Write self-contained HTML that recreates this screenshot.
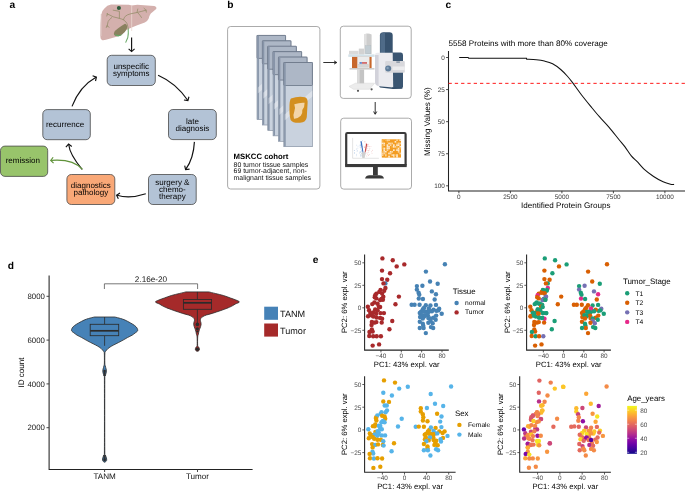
<!DOCTYPE html>
<html><head><meta charset="utf-8"><style>
html,body{margin:0;padding:0;background:#fff;width:685px;height:491px;overflow:hidden}
svg{display:block;will-change:transform}
text{font-family:"Liberation Sans",sans-serif;text-rendering:geometricPrecision}
</style></head><body>
<svg width="685" height="491" viewBox="0 0 685 491" font-family="Liberation Sans, sans-serif">
<rect width="685" height="491" fill="#fff"/>
<text x="9.5" y="8" font-size="10.2" text-anchor="start" fill="#000" font-weight="bold"  >a</text>
<text x="227.3" y="8" font-size="10.2" text-anchor="start" fill="#000" font-weight="bold"  >b</text>
<text x="445.5" y="8" font-size="10.2" text-anchor="start" fill="#000" font-weight="bold"  >c</text>
<text x="7.7" y="268.8" font-size="10.2" text-anchor="start" fill="#000" font-weight="bold"  >d</text>
<text x="312.7" y="263.3" font-size="10.2" text-anchor="start" fill="#000" font-weight="bold"  >e</text>
<rect x="107.2" y="55.3" width="48.10000000000001" height="30.200000000000003" rx="4.4" ry="4.4" fill="#b3c3d6" stroke="#4a4a4a" stroke-width="0.8"/><text x="131.25" y="68.8" font-size="8" text-anchor="middle" fill="#000" font-weight="normal" stroke="#000" stroke-width="0" >unspecific</text><text x="131.25" y="75.8" font-size="8" text-anchor="middle" fill="#000" font-weight="normal" stroke="#000" stroke-width="0" >symptoms</text>
<rect x="168.5" y="109.5" width="47.80000000000001" height="30.099999999999994" rx="4.4" ry="4.4" fill="#b3c3d6" stroke="#4a4a4a" stroke-width="0.8"/><text x="192.4" y="124.2" font-size="8" text-anchor="middle" fill="#000" font-weight="normal" stroke="#000" stroke-width="0" >late</text><text x="192.4" y="131.2" font-size="8" text-anchor="middle" fill="#000" font-weight="normal" stroke="#000" stroke-width="0" >diagnosis</text>
<rect x="42.8" y="109.6" width="47.5" height="30.099999999999994" rx="4.4" ry="4.4" fill="#b3c3d6" stroke="#4a4a4a" stroke-width="0.8"/><text x="65.05" y="127.2" font-size="8" text-anchor="middle" fill="#000" font-weight="normal" stroke="#000" stroke-width="0" >recurrence</text>
<rect x="0.5" y="146.1" width="47.2" height="30.30000000000001" rx="4.4" ry="4.4" fill="#98c46b" stroke="#4a4a4a" stroke-width="0.8"/><text x="22.8" y="163.1" font-size="8" text-anchor="middle" fill="#000" font-weight="normal" stroke="#000" stroke-width="0" >remission</text>
<rect x="66.9" y="174.5" width="47.89999999999999" height="30.0" rx="4.4" ry="4.4" fill="#f9a877" stroke="#4a4a4a" stroke-width="0.8"/><text x="90.85" y="188.2" font-size="8" text-anchor="middle" fill="#000" font-weight="normal" stroke="#000" stroke-width="0" >diagnostics</text><text x="90.85" y="195.2" font-size="8" text-anchor="middle" fill="#000" font-weight="normal" stroke="#000" stroke-width="0" >pathology</text>
<rect x="148.5" y="174.5" width="47.69999999999999" height="30.0" rx="4.4" ry="4.4" fill="#b3c3d6" stroke="#4a4a4a" stroke-width="0.8"/><text x="172.35" y="184.7" font-size="8" text-anchor="middle" fill="#000" font-weight="normal" stroke="#000" stroke-width="0" >surgery &amp;</text><text x="172.35" y="191.7" font-size="8" text-anchor="middle" fill="#000" font-weight="normal" stroke="#000" stroke-width="0" >chemo-</text><text x="172.35" y="198.7" font-size="8" text-anchor="middle" fill="#000" font-weight="normal" stroke="#000" stroke-width="0" >therapy</text>
<path d="M131.6,37.6 L131.6,51.2" fill="none" stroke="#111" stroke-width="1.15"/>
<path d="M128.63,48.92 L131.60,51.60 L134.57,48.92" fill="none" stroke="#111" stroke-width="1.15" stroke-linejoin="miter"/>
<path d="M158.1,75.2 Q176,83 187.7,100.3" fill="none" stroke="#111" stroke-width="1.15"/>
<path d="M183.95,99.97 L187.90,100.60 L188.94,96.74" fill="none" stroke="#111" stroke-width="1.15" stroke-linejoin="miter"/>
<path d="M194.4,141.9 Q193.6,158.2 185.9,169.2" fill="none" stroke="#111" stroke-width="1.15"/>
<path d="M184.70,165.70 L185.60,169.60 L189.57,169.11" fill="none" stroke="#111" stroke-width="1.15" stroke-linejoin="miter"/>
<path d="M145.8,193.8 Q129.8,199.1 117,195.3" fill="none" stroke="#111" stroke-width="1.15"/>
<path d="M119.99,193.08 L116.60,195.20 L118.35,198.80" fill="none" stroke="#111" stroke-width="1.15" stroke-linejoin="miter"/>
<path d="M82.1,169.4 Q69.6,154.2 68.7,144.5" fill="none" stroke="#111" stroke-width="1.15"/>
<path d="M71.79,146.51 L68.60,144.10 L65.87,147.03" fill="none" stroke="#111" stroke-width="1.15" stroke-linejoin="miter"/>
<path d="M72,106.4 Q79.8,86.2 96,77.3" fill="none" stroke="#111" stroke-width="1.15"/>
<path d="M95.50,81.00 L96.40,77.10 L92.62,75.80" fill="none" stroke="#111" stroke-width="1.15" stroke-linejoin="miter"/>
<path d="M82.5,169.4 C75,161 62,159.5 51.1,160.4" fill="none" stroke="#5f9239" stroke-width="1.15"/>
<path d="M53.16,157.25 L50.70,160.40 L53.58,163.18" fill="none" stroke="#5f9239" stroke-width="1.15" stroke-linejoin="miter"/>
<g>
<path d="M104.4,8.4 Q107,5 111,4.6 L128.9,4.7 L131.7,5.6 L137.3,4.7 L154.2,6.1 Q157.2,7 156.2,8.9 L150.8,13.6 Q149.2,16 148.6,18.7 Q147,21.8 144.8,22.5 L137.3,25.3 L131.7,27.4 L126.5,30 L121,34.5 Q116,37.5 109.5,38.8 Q104.5,40.6 102.4,40.2 Q100.3,39.5 100.4,37 L100.6,27 Q100.8,18 101.6,13.5 Q102.5,10 104.4,8.4 Z" fill="#d4b0ad"/>
<path d="M101.4,14 Q101,24 101.2,36" stroke="#dcc2bf" stroke-width="1.2" fill="none"/>
<path d="M131.7,5.5 L131.7,31" stroke="#ebd8cf" stroke-width="0.8"/>
<path d="M107,13.9 Q110,15 113.2,16.8 L119.1,18.3 Q122,19 123.5,19.8 Q126.5,22 127.1,23.8 L128.2,28.2" fill="none" stroke="#958e6b" stroke-width="0.8" stroke-linecap="round"/>
<path d="M111.7,17.6 Q109,19.5 108.1,21.6 L107,26.7 M107,26 L106.3,27.5 M107.2,25.5 L109,27.4 M107.5,13.5 L106.8,16" fill="none" stroke="#958e6b" stroke-width="0.8" stroke-linecap="round"/>
<path d="M119.4,18.3 L119.4,11.3 L113.2,10.2" fill="none" stroke="#958e6b" stroke-width="0.8" stroke-linecap="round"/>
<path d="M123.5,19.8 Q124,17.5 125.3,16.3 Q127,14.6 131,13.7 L137,12.5 Q142,11.3 146,10.2 M146,10.2 L144,8.3 M146,10.2 L146.3,12.2 M137,12.5 L137.8,9 M138,13 Q140,15 141.5,17.5" fill="none" stroke="#958e6b" stroke-width="0.8" stroke-linecap="round"/>
<path d="M125,23.8 Q127.5,24.5 127.1,28.2 Q125.5,32 122,34.5 Q119,36.6 116.5,36.3 Q113.6,35.5 113.9,33.2 Q114.5,30.5 118.5,28 Q122.5,25 125,23.8 Z" fill="#8a815f"/>
<path d="M114.2,34 Q116,36.8 119,36.3 Q121.5,35.8 122.6,34.3 Q119,35.6 114.2,34 Z" fill="#67a665"/>
<path d="M128.2,28.5 Q128.6,34 127.8,37.5 L125.6,42.6" fill="none" stroke="#6cab6a" stroke-width="1.05"/>
<circle cx="118.9" cy="8" r="2.05" fill="#2e5b3b"/>
</g>
<rect x="227.6" y="26.5" width="92.3" height="162.5" rx="3" fill="#fff" stroke="#8f8f8f" stroke-width="0.75"/>
<rect x="340.3" y="26.2" width="70.9" height="72.2" rx="3" fill="#fff" stroke="#8f8f8f" stroke-width="0.75"/>
<rect x="340.7" y="118.2" width="70.8" height="70.9" rx="3" fill="#fff" stroke="#8f8f8f" stroke-width="0.75"/>
<path d="M323.3,62.5 L336.5,62.5" fill="none" stroke="#1a1a1a" stroke-width="0.9"/>
<path d="M334.03,64.10 L336.80,62.50 L334.03,60.90" fill="none" stroke="#1a1a1a" stroke-width="0.9"/>
<path d="M375.2,102 L375.2,114" fill="none" stroke="#1a1a1a" stroke-width="0.9"/>
<path d="M373.60,111.53 L375.20,114.30 L376.80,111.53" fill="none" stroke="#1a1a1a" stroke-width="0.9"/>
<g>
<rect x="257.00" y="35.40" width="28.6" height="84.2" fill="#c9d2de" stroke="#7b8799" stroke-width="0.6"/>
<rect x="257.00" y="35.40" width="28.6" height="23.0" fill="#adb7c6" stroke="#5d697b" stroke-width="0.7" rx="0.8"/>
<rect x="257.30" y="35.70" width="1.6" height="83.6" fill="#8794a8"/>
<path d="M257.80,87.40 L285.60,63.40 L285.60,69.40 L257.80,93.40Z" fill="#ffffff" opacity="0.35"/>
<path d="M273.00,95.40 q3,-3 3,4 q-1,6 -3,4 z" fill="#d4901e" opacity="0.7"/>
</g>
<g>
<rect x="262.36" y="40.82" width="28.6" height="84.2" fill="#c9d2de" stroke="#7b8799" stroke-width="0.6"/>
<rect x="262.36" y="40.82" width="28.6" height="23.0" fill="#adb7c6" stroke="#5d697b" stroke-width="0.7" rx="0.8"/>
<rect x="262.66" y="41.12" width="1.6" height="83.6" fill="#8794a8"/>
<path d="M263.16,92.82 L290.96,68.82 L290.96,74.82 L263.16,98.82Z" fill="#ffffff" opacity="0.35"/>
<path d="M278.36,100.82 q3,-3 3,4 q-1,6 -3,4 z" fill="#d4901e" opacity="0.7"/>
</g>
<g>
<rect x="267.72" y="46.24" width="28.6" height="84.2" fill="#c9d2de" stroke="#7b8799" stroke-width="0.6"/>
<rect x="267.72" y="46.24" width="28.6" height="23.0" fill="#adb7c6" stroke="#5d697b" stroke-width="0.7" rx="0.8"/>
<rect x="268.02" y="46.54" width="1.6" height="83.6" fill="#8794a8"/>
<path d="M268.52,98.24 L296.32,74.24 L296.32,80.24 L268.52,104.24Z" fill="#ffffff" opacity="0.35"/>
<path d="M283.72,106.24 q3,-3 3,4 q-1,6 -3,4 z" fill="#d4901e" opacity="0.7"/>
</g>
<g>
<rect x="273.08" y="51.66" width="28.6" height="84.2" fill="#c9d2de" stroke="#7b8799" stroke-width="0.6"/>
<rect x="273.08" y="51.66" width="28.6" height="23.0" fill="#adb7c6" stroke="#5d697b" stroke-width="0.7" rx="0.8"/>
<rect x="273.38" y="51.96" width="1.6" height="83.6" fill="#8794a8"/>
<path d="M273.88,103.66 L301.68,79.66 L301.68,85.66 L273.88,109.66Z" fill="#ffffff" opacity="0.35"/>
<path d="M289.08,111.66 q3,-3 3,4 q-1,6 -3,4 z" fill="#d4901e" opacity="0.7"/>
</g>
<g>
<rect x="278.44" y="57.08" width="28.6" height="84.2" fill="#c9d2de" stroke="#7b8799" stroke-width="0.6"/>
<rect x="278.44" y="57.08" width="28.6" height="23.0" fill="#adb7c6" stroke="#5d697b" stroke-width="0.7" rx="0.8"/>
<rect x="278.74" y="57.38" width="1.6" height="83.6" fill="#8794a8"/>
<path d="M279.24,109.08 L307.04,85.08 L307.04,91.08 L279.24,115.08Z" fill="#ffffff" opacity="0.35"/>
<path d="M294.44,117.08 q3,-3 3,4 q-1,6 -3,4 z" fill="#d4901e" opacity="0.7"/>
</g>
<g>
<rect x="283.80" y="62.50" width="28.6" height="84.2" fill="#c9d2de" stroke="#7b8799" stroke-width="0.6"/>
<rect x="283.80" y="62.50" width="28.6" height="23.0" fill="#adb7c6" stroke="#5d697b" stroke-width="0.7" rx="0.8"/>
<rect x="284.10" y="62.80" width="1.6" height="83.6" fill="#8794a8"/>
<path d="M284.60,114.50 L312.40,90.50 L312.40,96.50 L284.60,120.50Z" fill="#ffffff" opacity="0.35"/>
</g>
<path d="M291,98.5 Q298,96 305,97.3 Q308,98.5 307.6,103 L306.8,117 Q306.2,122.5 300,122.8 Q293,123.3 290.6,120 Q289.2,115 289.5,105 Q289.8,99.5 291,98.5 Z" fill="#d38f1f"/>
<path d="M294.3,104.3 Q300,102.3 304.6,102.8 Q304.8,107 302.3,110 Q302.8,113 300.8,115.8 Q297.5,119 294,118.8 Q292.7,115 294.3,111.5 Q295.8,108.5 294.3,104.3 Z" fill="#f3d5a8"/>
<text x="233.6" y="159" font-size="7.75" text-anchor="start" fill="#000" font-weight="bold"  >MSKCC cohort</text>
<text x="233.6" y="166.5" font-size="6.9" text-anchor="start" fill="#111" font-weight="normal" stroke="#111" stroke-width="0" >80 tumor tissue samples</text>
<text x="233.6" y="173.4" font-size="6.9" text-anchor="start" fill="#111" font-weight="normal" stroke="#111" stroke-width="0" >69 tumor-adjacent, non-</text>
<text x="233.6" y="180.3" font-size="6.9" text-anchor="start" fill="#111" font-weight="normal" stroke="#111" stroke-width="0" >malignant tissue samples</text>
<path d="M364.1,53.9 L364.1,34.5 Q367.8,32.3 371.6,34.5 L371.6,53.9 Z" fill="#cdcdcd"/>
<path d="M364.1,53.9 L364.1,34.5 Q365.5,33.6 366.6,33.4 L366.6,53.9 Z" fill="#e0e0e0"/>
<rect x="365.3" y="45.8" width="5.6" height="8" fill="#c2ccd2" stroke="#aab6bd" stroke-width="0.3"/>
<rect x="349" y="50.8" width="9.5" height="3.8" fill="#dadada"/>
<rect x="358.8" y="48.6" width="5.3" height="6" fill="#d2d2d2"/>
<rect x="348.3" y="54.4" width="26.3" height="2.5" fill="#d3e1e8"/>
<rect x="352" y="56.9" width="19.6" height="11.3" fill="#c8672c"/>
<rect x="357.3" y="56.9" width="12.2" height="11.3" fill="#ececec"/>
<rect x="359.5" y="62.3" width="2.4" height="1.3" fill="#2f5fc0"/><rect x="362" y="62.3" width="5" height="1.3" fill="#c83a3a"/>
<rect x="358.8" y="64.3" width="9.5" height="2.8" fill="#d6d6d6" stroke="#bdbdbd" stroke-width="0.3"/>
<rect x="349.5" y="68.2" width="25" height="1.3" fill="#c3c3c3"/>
<rect x="357.3" y="69.5" width="6.8" height="15.5" fill="#c4c4c4"/>
<rect x="357.3" y="69.5" width="2.3" height="15.5" fill="#dcdcdc"/>
<path d="M349,86.4 L355.5,83.2 L374.6,83.2 L369.5,89.3 L353.5,89.3 Z" fill="#ececec" stroke="#cfcfcf" stroke-width="0.4"/>
<circle cx="358" cy="90.8" r="1.1" fill="#555"/><circle cx="371.6" cy="89.3" r="1.1" fill="#555"/>
<path d="M379.9,53.9 L379.9,35.5 Q379.9,32.3 383.5,32.3 L389.5,32.3 Q392.7,32.3 392.7,35.5 L392.7,53.9 Z" fill="#38536f"/>
<path d="M380.4,53.9 L380.4,35.5 Q380.6,33 383.5,32.8 L385,32.8 L385,53.9 Z" fill="#4f6b88"/>
<path d="M392,52.4 L401,52.4 Q403,52.6 403,55 L403,86.5 Q403,88 401,88.3 L392,88.3 Z" fill="#3b5672"/>
<path d="M377,52.8 L392.7,52.8 L393.2,87.5 L379,86.2 Q375,85.5 375,82 L375,55 Q375,52.8 377,52.8 Z" fill="#ebebef"/>
<path d="M375,55 L378.6,55 L378.6,85.9 Q375,85.4 375,82 Z" fill="#d2d2da"/>
<path d="M379,86.2 L393.2,87.5 L403,87.8 L402,88.8 L393,89 L380,87.4 Z" fill="#2f4a66"/>
<rect x="385.2" y="61" width="19.6" height="11.7" rx="1" fill="#d8d8dc"/>
<rect x="392.5" y="66.5" width="12.3" height="3.6" fill="#ececee"/>
<circle cx="388.2" cy="68.6" r="3" fill="#5e7c99"/><circle cx="387.6" cy="68" r="1.2" fill="#86a0b8"/>
<rect x="396.3" y="61.3" width="3.6" height="1.6" fill="#8e9aa8"/>
<rect x="346.2" y="133" width="59.4" height="32.5" rx="1.2" fill="#fff" stroke="#3a3a3a" stroke-width="2.2"/>
<rect x="345.1" y="164" width="61.6" height="3.1" fill="#3a3a3a"/>
<rect x="373" y="167" width="4.8" height="8.4" fill="#3a3a3a"/>
<path d="M365,178.4 Q366,175.2 369.5,175.2 L379.5,175.2 Q383,175.2 384,178.4 Z" fill="#3a3a3a"/>
<path d="M352.6,137.8 L352.6,158.3 L378.9,158.3" fill="none" stroke="#c4c4c4" stroke-width="0.45"/>
<circle cx="358.01" cy="146.05" r="0.42" fill="#a9c3e3"/>
<circle cx="370.98" cy="146.34" r="0.42" fill="#eab0b0"/>
<circle cx="362.53" cy="140.58" r="0.42" fill="#a9c3e3"/>
<circle cx="369.39" cy="154.66" r="0.42" fill="#eab0b0"/>
<circle cx="360.88" cy="147.88" r="0.42" fill="#a9c3e3"/>
<circle cx="364.28" cy="152.50" r="0.42" fill="#eab0b0"/>
<circle cx="360.31" cy="144.93" r="0.42" fill="#a9c3e3"/>
<circle cx="365.15" cy="153.86" r="0.42" fill="#eab0b0"/>
<circle cx="361.09" cy="155.97" r="0.42" fill="#a9c3e3"/>
<circle cx="366.97" cy="153.01" r="0.42" fill="#eab0b0"/>
<circle cx="354.55" cy="153.23" r="0.42" fill="#a9c3e3"/>
<circle cx="369.87" cy="148.26" r="0.42" fill="#eab0b0"/>
<circle cx="360.92" cy="145.65" r="0.42" fill="#a9c3e3"/>
<circle cx="372.03" cy="153.14" r="0.42" fill="#eab0b0"/>
<circle cx="361.59" cy="153.73" r="0.42" fill="#a9c3e3"/>
<circle cx="364.19" cy="146.20" r="0.42" fill="#eab0b0"/>
<circle cx="362.68" cy="150.44" r="0.42" fill="#a9c3e3"/>
<circle cx="366.37" cy="149.08" r="0.42" fill="#eab0b0"/>
<circle cx="360.87" cy="145.48" r="0.42" fill="#a9c3e3"/>
<circle cx="364.41" cy="155.63" r="0.42" fill="#eab0b0"/>
<circle cx="356.60" cy="155.80" r="0.42" fill="#a9c3e3"/>
<circle cx="367.78" cy="148.37" r="0.42" fill="#eab0b0"/>
<circle cx="362.69" cy="153.02" r="0.42" fill="#a9c3e3"/>
<circle cx="367.14" cy="145.62" r="0.42" fill="#eab0b0"/>
<circle cx="354.63" cy="152.68" r="0.42" fill="#a9c3e3"/>
<circle cx="366.07" cy="144.64" r="0.42" fill="#eab0b0"/>
<circle cx="361.88" cy="143.41" r="0.42" fill="#a9c3e3"/>
<circle cx="364.96" cy="141.26" r="0.42" fill="#eab0b0"/>
<circle cx="362.27" cy="146.15" r="0.42" fill="#a9c3e3"/>
<circle cx="368.22" cy="144.16" r="0.42" fill="#eab0b0"/>
<circle cx="360.26" cy="151.43" r="0.42" fill="#a9c3e3"/>
<circle cx="364.25" cy="153.59" r="0.42" fill="#eab0b0"/>
<circle cx="356.51" cy="154.19" r="0.42" fill="#a9c3e3"/>
<circle cx="364.33" cy="147.40" r="0.42" fill="#eab0b0"/>
<circle cx="361.16" cy="146.98" r="0.42" fill="#a9c3e3"/>
<circle cx="368.54" cy="150.71" r="0.42" fill="#eab0b0"/>
<circle cx="362.22" cy="155.47" r="0.42" fill="#a9c3e3"/>
<circle cx="367.90" cy="154.29" r="0.42" fill="#eab0b0"/>
<circle cx="356.32" cy="149.03" r="0.42" fill="#a9c3e3"/>
<circle cx="365.75" cy="149.52" r="0.42" fill="#eab0b0"/>
<circle cx="361.49" cy="151.44" r="0.42" fill="#a9c3e3"/>
<circle cx="367.98" cy="144.90" r="0.42" fill="#eab0b0"/>
<circle cx="357.23" cy="150.22" r="0.42" fill="#a9c3e3"/>
<circle cx="368.12" cy="152.25" r="0.42" fill="#eab0b0"/>
<circle cx="361.55" cy="150.15" r="0.42" fill="#a9c3e3"/>
<circle cx="372.58" cy="150.29" r="0.42" fill="#eab0b0"/>
<circle cx="360.35" cy="154.71" r="0.42" fill="#a9c3e3"/>
<circle cx="366.01" cy="143.26" r="0.42" fill="#eab0b0"/>
<circle cx="359.89" cy="145.08" r="0.42" fill="#a9c3e3"/>
<circle cx="368.79" cy="146.63" r="0.42" fill="#eab0b0"/>
<circle cx="360.05" cy="152.00" r="0.42" fill="#a9c3e3"/>
<circle cx="367.64" cy="146.80" r="0.42" fill="#eab0b0"/>
<circle cx="360.14" cy="146.70" r="0.42" fill="#a9c3e3"/>
<circle cx="364.26" cy="147.15" r="0.42" fill="#eab0b0"/>
<circle cx="360.92" cy="149.07" r="0.42" fill="#a9c3e3"/>
<circle cx="369.56" cy="146.69" r="0.42" fill="#eab0b0"/>
<circle cx="360.30" cy="145.34" r="0.42" fill="#a9c3e3"/>
<circle cx="367.87" cy="144.95" r="0.42" fill="#eab0b0"/>
<circle cx="356.44" cy="145.10" r="0.42" fill="#a9c3e3"/>
<circle cx="369.70" cy="149.88" r="0.42" fill="#eab0b0"/>
<circle cx="361.36" cy="141.61" r="0.42" fill="#a9c3e3"/>
<circle cx="367.34" cy="146.24" r="0.42" fill="#eab0b0"/>
<circle cx="360.42" cy="144.65" r="0.42" fill="#a9c3e3"/>
<circle cx="367.99" cy="150.53" r="0.42" fill="#eab0b0"/>
<circle cx="357.88" cy="148.11" r="0.42" fill="#a9c3e3"/>
<circle cx="364.65" cy="153.46" r="0.42" fill="#eab0b0"/>
<circle cx="359.63" cy="152.96" r="0.42" fill="#a9c3e3"/>
<circle cx="368.58" cy="155.48" r="0.42" fill="#eab0b0"/>
<circle cx="360.96" cy="155.19" r="0.42" fill="#a9c3e3"/>
<circle cx="364.50" cy="153.10" r="0.42" fill="#eab0b0"/>
<circle cx="362.46" cy="148.42" r="0.42" fill="#a9c3e3"/>
<circle cx="366.45" cy="147.55" r="0.42" fill="#eab0b0"/>
<circle cx="360.69" cy="155.99" r="0.42" fill="#a9c3e3"/>
<circle cx="365.59" cy="149.83" r="0.42" fill="#eab0b0"/>
<circle cx="361.77" cy="150.13" r="0.42" fill="#a9c3e3"/>
<circle cx="364.14" cy="154.46" r="0.42" fill="#eab0b0"/>
<circle cx="360.13" cy="147.69" r="0.42" fill="#a9c3e3"/>
<circle cx="371.55" cy="151.81" r="0.42" fill="#eab0b0"/>
<circle cx="357.09" cy="151.67" r="0.42" fill="#a9c3e3"/>
<circle cx="364.84" cy="147.15" r="0.42" fill="#eab0b0"/>
<circle cx="354.25" cy="150.33" r="0.42" fill="#a9c3e3"/>
<circle cx="366.85" cy="155.99" r="0.42" fill="#eab0b0"/>
<circle cx="362.01" cy="146.22" r="0.42" fill="#a9c3e3"/>
<circle cx="364.86" cy="142.03" r="0.42" fill="#eab0b0"/>
<circle cx="360.66" cy="152.66" r="0.42" fill="#a9c3e3"/>
<circle cx="366.48" cy="150.57" r="0.42" fill="#eab0b0"/>
<circle cx="354.51" cy="150.33" r="0.42" fill="#a9c3e3"/>
<circle cx="366.21" cy="148.79" r="0.42" fill="#eab0b0"/>
<circle cx="360.82" cy="141.35" r="0.42" fill="#a9c3e3"/>
<circle cx="365.99" cy="148.98" r="0.42" fill="#eab0b0"/>
<path d="M362.6,152.8 L360.4,141.4 L361.7,141.2 L363.5,152.8 Z" fill="#3b72c2"/>
<path d="M364.6,152.6 L366.1,143.6 L367.3,144 L365.5,152.6 Z" fill="#c94545"/>
<path d="M362.3,158 L361.4,152.6 L365.8,152.6 L364.6,158 Z" fill="#cfcfcf"/>
<rect x="381.8" y="139.3" width="19.2" height="18.3" fill="#f39c22"/>
<rect x="381.80" y="139.30" width="1.65" height="1.71" fill="#f7b44a"/>
<rect x="381.80" y="140.96" width="1.65" height="1.71" fill="#f7b44a"/>
<rect x="381.80" y="142.63" width="1.65" height="1.71" fill="#fde9cc"/>
<rect x="381.80" y="144.29" width="1.65" height="1.71" fill="#f7b44a"/>
<rect x="381.80" y="145.95" width="1.65" height="1.71" fill="#f7b44a"/>
<rect x="381.80" y="147.62" width="1.65" height="1.71" fill="#f7b44a"/>
<rect x="381.80" y="150.95" width="1.65" height="1.71" fill="#f7b44a"/>
<rect x="381.80" y="152.61" width="1.65" height="1.71" fill="#fbd39a"/>
<rect x="381.80" y="154.27" width="1.65" height="1.71" fill="#fbd39a"/>
<rect x="383.40" y="142.63" width="1.65" height="1.71" fill="#fde9cc"/>
<rect x="383.40" y="144.29" width="1.65" height="1.71" fill="#fbd39a"/>
<rect x="383.40" y="147.62" width="1.65" height="1.71" fill="#fde9cc"/>
<rect x="383.40" y="149.28" width="1.65" height="1.71" fill="#fde9cc"/>
<rect x="383.40" y="150.95" width="1.65" height="1.71" fill="#fbd39a"/>
<rect x="383.40" y="152.61" width="1.65" height="1.71" fill="#fbd39a"/>
<rect x="385.00" y="139.30" width="1.65" height="1.71" fill="#f7b44a"/>
<rect x="385.00" y="147.62" width="1.65" height="1.71" fill="#f7b44a"/>
<rect x="385.00" y="150.95" width="1.65" height="1.71" fill="#fde9cc"/>
<rect x="385.00" y="152.61" width="1.65" height="1.71" fill="#f7b44a"/>
<rect x="385.00" y="154.27" width="1.65" height="1.71" fill="#fbd39a"/>
<rect x="385.00" y="155.94" width="1.65" height="1.71" fill="#f7b44a"/>
<rect x="386.60" y="139.30" width="1.65" height="1.71" fill="#fbd39a"/>
<rect x="386.60" y="140.96" width="1.65" height="1.71" fill="#f7b44a"/>
<rect x="386.60" y="144.29" width="1.65" height="1.71" fill="#fde9cc"/>
<rect x="386.60" y="145.95" width="1.65" height="1.71" fill="#fde9cc"/>
<rect x="386.60" y="147.62" width="1.65" height="1.71" fill="#fde9cc"/>
<rect x="386.60" y="149.28" width="1.65" height="1.71" fill="#fbd39a"/>
<rect x="388.20" y="139.30" width="1.65" height="1.71" fill="#fbd39a"/>
<rect x="388.20" y="142.63" width="1.65" height="1.71" fill="#fde9cc"/>
<rect x="388.20" y="145.95" width="1.65" height="1.71" fill="#fde9cc"/>
<rect x="388.20" y="147.62" width="1.65" height="1.71" fill="#fde9cc"/>
<rect x="388.20" y="152.61" width="1.65" height="1.71" fill="#fde9cc"/>
<rect x="388.20" y="154.27" width="1.65" height="1.71" fill="#f7b44a"/>
<rect x="388.20" y="155.94" width="1.65" height="1.71" fill="#fde9cc"/>
<rect x="389.80" y="142.63" width="1.65" height="1.71" fill="#fbd39a"/>
<rect x="389.80" y="144.29" width="1.65" height="1.71" fill="#fbd39a"/>
<rect x="389.80" y="150.95" width="1.65" height="1.71" fill="#fde9cc"/>
<rect x="389.80" y="152.61" width="1.65" height="1.71" fill="#fbd39a"/>
<rect x="391.40" y="142.63" width="1.65" height="1.71" fill="#fbd39a"/>
<rect x="391.40" y="145.95" width="1.65" height="1.71" fill="#f7b44a"/>
<rect x="391.40" y="150.95" width="1.65" height="1.71" fill="#fbd39a"/>
<rect x="391.40" y="154.27" width="1.65" height="1.71" fill="#fbd39a"/>
<rect x="393.00" y="144.29" width="1.65" height="1.71" fill="#fde9cc"/>
<rect x="393.00" y="145.95" width="1.65" height="1.71" fill="#fde9cc"/>
<rect x="393.00" y="149.28" width="1.65" height="1.71" fill="#fde9cc"/>
<rect x="393.00" y="154.27" width="1.65" height="1.71" fill="#fde9cc"/>
<rect x="393.00" y="155.94" width="1.65" height="1.71" fill="#fbd39a"/>
<rect x="394.60" y="140.96" width="1.65" height="1.71" fill="#fde9cc"/>
<rect x="394.60" y="145.95" width="1.65" height="1.71" fill="#fbd39a"/>
<rect x="394.60" y="154.27" width="1.65" height="1.71" fill="#f7b44a"/>
<rect x="396.20" y="139.30" width="1.65" height="1.71" fill="#fbd39a"/>
<rect x="396.20" y="142.63" width="1.65" height="1.71" fill="#f7b44a"/>
<rect x="396.20" y="144.29" width="1.65" height="1.71" fill="#fde9cc"/>
<rect x="396.20" y="145.95" width="1.65" height="1.71" fill="#f7b44a"/>
<rect x="396.20" y="147.62" width="1.65" height="1.71" fill="#f7b44a"/>
<rect x="396.20" y="149.28" width="1.65" height="1.71" fill="#fde9cc"/>
<rect x="396.20" y="154.27" width="1.65" height="1.71" fill="#fde9cc"/>
<rect x="396.20" y="155.94" width="1.65" height="1.71" fill="#fde9cc"/>
<rect x="397.80" y="142.63" width="1.65" height="1.71" fill="#fbd39a"/>
<rect x="397.80" y="144.29" width="1.65" height="1.71" fill="#fde9cc"/>
<rect x="397.80" y="147.62" width="1.65" height="1.71" fill="#fde9cc"/>
<rect x="397.80" y="149.28" width="1.65" height="1.71" fill="#fde9cc"/>
<rect x="397.80" y="150.95" width="1.65" height="1.71" fill="#fbd39a"/>
<rect x="399.40" y="139.30" width="1.65" height="1.71" fill="#fde9cc"/>
<rect x="399.40" y="142.63" width="1.65" height="1.71" fill="#fbd39a"/>
<rect x="399.40" y="145.95" width="1.65" height="1.71" fill="#fde9cc"/>
<rect x="399.40" y="147.62" width="1.65" height="1.71" fill="#f7b44a"/>
<rect x="399.40" y="152.61" width="1.65" height="1.71" fill="#fbd39a"/>
<path d="M448.5,51 L448.5,190.9 L685,190.9" fill="none" stroke="#222" stroke-width="1.05"/>
<path d="M446.1,57.50 L448.5,57.50" stroke="#333" stroke-width="0.9"/>
<text x="444.8" y="59.8" font-size="6.4" text-anchor="end" fill="#3a3a3a" font-weight="normal" stroke="#3a3a3a" stroke-width="0" >0</text>
<path d="M446.1,89.58 L448.5,89.58" stroke="#333" stroke-width="0.9"/>
<text x="444.8" y="91.88" font-size="6.4" text-anchor="end" fill="#3a3a3a" font-weight="normal" stroke="#3a3a3a" stroke-width="0" >25</text>
<path d="M446.1,121.66 L448.5,121.66" stroke="#333" stroke-width="0.9"/>
<text x="444.8" y="123.96" font-size="6.4" text-anchor="end" fill="#3a3a3a" font-weight="normal" stroke="#3a3a3a" stroke-width="0" >50</text>
<path d="M446.1,153.74 L448.5,153.74" stroke="#333" stroke-width="0.9"/>
<text x="444.8" y="156.04" font-size="6.4" text-anchor="end" fill="#3a3a3a" font-weight="normal" stroke="#3a3a3a" stroke-width="0" >75</text>
<path d="M446.1,185.82 L448.5,185.82" stroke="#333" stroke-width="0.9"/>
<text x="444.8" y="188.12" font-size="6.4" text-anchor="end" fill="#3a3a3a" font-weight="normal" stroke="#3a3a3a" stroke-width="0" >100</text>
<path d="M458.90,190.9 L458.90,193.3" stroke="#333" stroke-width="0.9"/>
<text x="458.9" y="199.3" font-size="6.4" text-anchor="middle" fill="#3a3a3a" font-weight="normal" stroke="#3a3a3a" stroke-width="0" >0</text>
<path d="M510.40,190.9 L510.40,193.3" stroke="#333" stroke-width="0.9"/>
<text x="510.4" y="199.3" font-size="6.4" text-anchor="middle" fill="#3a3a3a" font-weight="normal" stroke="#3a3a3a" stroke-width="0" >2500</text>
<path d="M561.90,190.9 L561.90,193.3" stroke="#333" stroke-width="0.9"/>
<text x="561.9" y="199.3" font-size="6.4" text-anchor="middle" fill="#3a3a3a" font-weight="normal" stroke="#3a3a3a" stroke-width="0" >5000</text>
<path d="M613.40,190.9 L613.40,193.3" stroke="#333" stroke-width="0.9"/>
<text x="613.4" y="199.3" font-size="6.4" text-anchor="middle" fill="#3a3a3a" font-weight="normal" stroke="#3a3a3a" stroke-width="0" >7500</text>
<path d="M664.90,190.9 L664.90,193.3" stroke="#333" stroke-width="0.9"/>
<text x="664.9" y="199.3" font-size="6.4" text-anchor="middle" fill="#3a3a3a" font-weight="normal" stroke="#3a3a3a" stroke-width="0" >10000</text>
<text x="565.7" y="208.4" font-size="8.1" text-anchor="middle" fill="#000" font-weight="normal" stroke="#000" stroke-width="0" >Identified Protein Groups</text>
<text x="0" y="0" font-size="8.1" text-anchor="middle" fill="#000" font-weight="normal" stroke="#000" stroke-width="0" transform="translate(429.5,121.7) rotate(-90)">Missing Values (%)</text>
<text x="448.6" y="45.6" font-size="8.1" text-anchor="start" fill="#000" font-weight="normal" stroke="#000" stroke-width="0" >5558 Proteins with more than 80% coverage</text>
<path d="M448.5,83.35 L685,83.35" stroke="#ff1a1a" stroke-width="1" stroke-dasharray="3.3 3.0"/>
<path d="M459.2,57.5 L468.2,57.5 L468.6,58.3 L526.5,58.3 L526.70,59.20 C528.30,59.30 533.35,59.48 536.30,59.80 C539.25,60.12 541.68,60.43 544.40,61.10 C547.12,61.77 549.88,62.40 552.60,63.80 C555.32,65.20 558.27,67.47 560.70,69.50 C563.13,71.53 565.25,73.85 567.20,76.00 C569.15,78.15 570.03,79.28 572.40,82.40 C574.77,85.52 578.27,90.62 581.40,94.70 C584.53,98.78 588.20,103.23 591.20,106.90 C594.20,110.57 596.42,113.30 599.40,116.70 C602.38,120.10 605.85,123.50 609.10,127.30 C612.35,131.10 616.25,136.23 618.90,139.50 C621.55,142.77 622.93,144.17 625.00,146.90 C627.07,149.63 629.27,153.43 631.30,155.90 C633.33,158.37 635.08,159.50 637.20,161.70 C639.32,163.90 641.27,166.63 644.00,169.10 C646.73,171.57 650.42,174.38 653.60,176.50 C656.78,178.62 660.28,180.52 663.10,181.80 C665.92,183.08 668.67,183.77 670.50,184.20 C672.33,184.63 673.50,184.37 674.10,184.40" fill="none" stroke="#111" stroke-width="1.05"/>
<path d="M49.1,275.4 L49.1,469.4 L252.6,469.4" fill="none" stroke="#222" stroke-width="1.05"/>
<path d="M46.5,427.70 L49.1,427.70" stroke="#333" stroke-width="0.9"/>
<text x="44.9" y="430.45" font-size="7.8" text-anchor="end" fill="#1a1a1a" font-weight="normal" stroke="#1a1a1a" stroke-width="0" >2000</text>
<path d="M46.5,383.90 L49.1,383.90" stroke="#333" stroke-width="0.9"/>
<text x="44.9" y="386.65" font-size="7.8" text-anchor="end" fill="#1a1a1a" font-weight="normal" stroke="#1a1a1a" stroke-width="0" >4000</text>
<path d="M46.5,340.10 L49.1,340.10" stroke="#333" stroke-width="0.9"/>
<text x="44.9" y="342.85" font-size="7.8" text-anchor="end" fill="#1a1a1a" font-weight="normal" stroke="#1a1a1a" stroke-width="0" >6000</text>
<path d="M46.5,296.30 L49.1,296.30" stroke="#333" stroke-width="0.9"/>
<text x="44.9" y="299.05" font-size="7.8" text-anchor="end" fill="#1a1a1a" font-weight="normal" stroke="#1a1a1a" stroke-width="0" >8000</text>
<path d="M104.6,469.4 L104.6,472.0" stroke="#333" stroke-width="0.9"/>
<text x="104.6" y="478.9" font-size="8.1" text-anchor="middle" fill="#111" font-weight="normal" stroke="#111" stroke-width="0" >TANM</text>
<path d="M197.5,469.4 L197.5,472.0" stroke="#333" stroke-width="0.9"/>
<text x="197.5" y="478.9" font-size="8.1" text-anchor="middle" fill="#111" font-weight="normal" stroke="#111" stroke-width="0" >Tumor</text>
<text x="0" y="0" font-size="8.05" text-anchor="middle" fill="#000" font-weight="normal" stroke="#000" stroke-width="0" transform="translate(23.5,372.5) rotate(-90)">ID count</text>
<path d="M104.4,289 L104.4,283.8 L197.6,283.8 L197.6,289" fill="none" stroke="#555" stroke-width="0.8"/>
<text x="151" y="281.8" font-size="8.2" text-anchor="middle" fill="#1a1a1a" font-weight="normal" stroke="#1a1a1a" stroke-width="0" >2.16e-20</text>
<path d="M94.40,317.00 C93.43,317.25 90.32,317.98 88.60,318.50 C86.88,319.02 85.77,319.35 84.10,320.10 C82.43,320.85 80.18,322.10 78.60,323.00 C77.02,323.90 75.67,324.67 74.60,325.50 C73.53,326.33 72.70,327.12 72.20,328.00 C71.70,328.88 71.28,329.97 71.60,330.80 C71.92,331.63 73.18,332.27 74.10,333.00 C75.02,333.73 75.85,334.45 77.10,335.20 C78.35,335.95 80.10,336.68 81.60,337.50 C83.10,338.32 84.60,339.27 86.10,340.10 C87.60,340.93 89.02,341.68 90.60,342.50 C92.18,343.32 94.18,344.25 95.60,345.00 C97.02,345.75 98.18,346.42 99.10,347.00 C100.02,347.58 100.52,348.00 101.10,348.50 C101.68,349.00 102.17,349.50 102.60,350.00 C103.03,350.50 103.42,351.00 103.70,351.50 C103.98,352.00 104.18,351.08 104.30,353.00 C104.42,354.92 104.47,360.83 104.40,363.00 C104.33,365.17 104.12,365.00 103.90,366.00 C103.68,367.00 103.28,368.17 103.10,369.00 C102.92,369.83 102.80,370.33 102.80,371.00 C102.80,371.67 102.90,372.17 103.10,373.00 C103.30,373.83 103.78,375.17 104.00,376.00 C104.22,376.83 104.33,365.17 104.40,378.00 C104.47,390.83 104.50,440.17 104.40,453.00 C104.30,465.83 104.02,454.33 103.80,455.00 C103.58,455.67 103.32,456.33 103.10,457.00 C102.88,457.67 102.58,458.42 102.50,459.00 C102.42,459.58 102.45,460.07 102.60,460.50 C102.75,460.93 103.12,461.32 103.40,461.60 C103.68,461.88 104.15,462.10 104.30,462.20 L104.90,462.20 C105.05,462.10 105.52,461.88 105.80,461.60 C106.08,461.32 106.45,460.93 106.60,460.50 C106.75,460.07 106.78,459.58 106.70,459.00 C106.62,458.42 106.32,457.67 106.10,457.00 C105.88,456.33 105.62,455.67 105.40,455.00 C105.18,454.33 104.90,465.83 104.80,453.00 C104.70,440.17 104.73,390.83 104.80,378.00 C104.87,365.17 104.98,376.83 105.20,376.00 C105.42,375.17 105.90,373.83 106.10,373.00 C106.30,372.17 106.40,371.67 106.40,371.00 C106.40,370.33 106.28,369.83 106.10,369.00 C105.92,368.17 105.52,367.00 105.30,366.00 C105.08,365.00 104.87,365.17 104.80,363.00 C104.73,360.83 104.78,354.92 104.90,353.00 C105.02,351.08 105.22,352.00 105.50,351.50 C105.78,351.00 106.17,350.50 106.60,350.00 C107.03,349.50 107.52,349.00 108.10,348.50 C108.68,348.00 109.18,347.58 110.10,347.00 C111.02,346.42 112.18,345.75 113.60,345.00 C115.02,344.25 117.02,343.32 118.60,342.50 C120.18,341.68 121.60,340.93 123.10,340.10 C124.60,339.27 126.10,338.32 127.60,337.50 C129.10,336.68 130.85,335.95 132.10,335.20 C133.35,334.45 134.18,333.73 135.10,333.00 C136.02,332.27 137.28,331.63 137.60,330.80 C137.92,329.97 137.50,328.88 137.00,328.00 C136.50,327.12 135.67,326.33 134.60,325.50 C133.53,324.67 132.18,323.90 130.60,323.00 C129.02,322.10 126.77,320.85 125.10,320.10 C123.43,319.35 122.32,319.02 120.60,318.50 C118.88,317.98 115.77,317.25 114.80,317.00 Z" fill="#4682b7" stroke="#2b2b2b" stroke-width="0.8" stroke-linejoin="round"/>
<path d="M186.00,291.90 C184.90,292.17 181.83,292.90 179.40,293.50 C176.97,294.10 173.90,294.75 171.40,295.50 C168.90,296.25 166.48,297.25 164.40,298.00 C162.32,298.75 160.40,299.33 158.90,300.00 C157.40,300.67 155.32,301.33 155.40,302.00 C155.48,302.67 158.23,303.37 159.40,304.00 C160.57,304.63 161.23,305.18 162.40,305.80 C163.57,306.42 164.48,306.92 166.40,307.70 C168.32,308.48 171.20,309.55 173.90,310.50 C176.60,311.45 180.18,312.65 182.60,313.40 C185.02,314.15 186.85,314.47 188.40,315.00 C189.95,315.53 190.98,316.05 191.90,316.60 C192.82,317.15 193.47,317.70 193.90,318.30 C194.33,318.90 194.50,319.50 194.50,320.20 C194.50,320.90 194.03,321.78 193.90,322.50 C193.77,323.22 193.65,323.83 193.70,324.50 C193.75,325.17 194.00,325.83 194.20,326.50 C194.40,327.17 194.63,327.75 194.90,328.50 C195.17,329.25 195.53,330.00 195.80,331.00 C196.07,332.00 196.28,333.50 196.50,334.50 C196.72,335.50 196.99,335.15 197.10,337.00 C197.21,338.85 197.30,343.93 197.15,345.60 C197.00,347.27 196.49,346.48 196.20,347.00 C195.91,347.52 195.50,348.15 195.40,348.70 C195.30,349.25 195.37,349.88 195.60,350.30 C195.83,350.72 196.60,351.05 196.80,351.20 L198.00,351.20 C198.20,351.05 198.97,350.72 199.20,350.30 C199.43,349.88 199.50,349.25 199.40,348.70 C199.30,348.15 198.89,347.52 198.60,347.00 C198.31,346.48 197.80,347.27 197.65,345.60 C197.50,343.93 197.59,338.85 197.70,337.00 C197.81,335.15 198.08,335.50 198.30,334.50 C198.52,333.50 198.73,332.00 199.00,331.00 C199.27,330.00 199.63,329.25 199.90,328.50 C200.17,327.75 200.40,327.17 200.60,326.50 C200.80,325.83 201.05,325.17 201.10,324.50 C201.15,323.83 201.03,323.22 200.90,322.50 C200.77,321.78 200.30,320.90 200.30,320.20 C200.30,319.50 200.47,318.90 200.90,318.30 C201.33,317.70 201.98,317.15 202.90,316.60 C203.82,316.05 204.85,315.53 206.40,315.00 C207.95,314.47 209.78,314.15 212.20,313.40 C214.62,312.65 218.20,311.45 220.90,310.50 C223.60,309.55 226.48,308.48 228.40,307.70 C230.32,306.92 231.23,306.42 232.40,305.80 C233.57,305.18 234.23,304.63 235.40,304.00 C236.57,303.37 239.32,302.67 239.40,302.00 C239.48,301.33 237.40,300.67 235.90,300.00 C234.40,299.33 232.48,298.75 230.40,298.00 C228.32,297.25 225.90,296.25 223.40,295.50 C220.90,294.75 217.83,294.10 215.40,293.50 C212.97,292.90 209.90,292.17 208.80,291.90 Z" fill="#a52a2a" stroke="#2b2b2b" stroke-width="0.8" stroke-linejoin="round"/>
<path d="M104.6,317 L104.6,324.3 M104.6,335.7 L104.6,345.8" stroke="#2b2b2b" stroke-width="0.8"/>
<rect x="90.2" y="324.3" width="28.5" height="11.4" fill="#4682b7" stroke="#2b2b2b" stroke-width="0.85"/>
<path d="M90.2,330.8 L118.7,330.8" stroke="#2b2b2b" stroke-width="1.7"/>
<path d="M197.4,291.9 L197.4,299.5 M197.4,309.3 L197.4,323" stroke="#2b2b2b" stroke-width="0.8"/>
<rect x="183.4" y="299.5" width="28.2" height="9.8" fill="#a52a2a" stroke="#2b2b2b" stroke-width="0.85"/>
<path d="M183.4,302.8 L211.6,302.8" stroke="#2b2b2b" stroke-width="1.7"/>
<circle cx="104.6" cy="371" r="1.3" fill="#2b2b2b"/>
<circle cx="104.6" cy="460" r="1.4" fill="#2b2b2b"/>
<circle cx="197.4" cy="324.4" r="1.8" fill="#2b2b2b"/>
<circle cx="197.4" cy="328.8" r="1.5" fill="#2b2b2b"/>
<circle cx="197.4" cy="331.5" r="1.1" fill="#2b2b2b"/>
<circle cx="197.4" cy="349.3" r="1.7" fill="#2b2b2b"/>
<rect x="264.2" y="306.7" width="13.8" height="13.1" fill="#4682b7"/>
<rect x="264.2" y="323.5" width="13.8" height="13.1" fill="#a52a2a"/>
<text x="280.0" y="317.0" font-size="9.1" text-anchor="start" fill="#111" font-weight="normal" stroke="#111" stroke-width="0" >TANM</text>
<text x="280.0" y="333.8" font-size="9.1" text-anchor="start" fill="#111" font-weight="normal" stroke="#111" stroke-width="0" >Tumor</text>
<path d="M364.6,254.5 L364.6,350.1 L448.8,350.1" fill="none" stroke="#222" stroke-width="1.05"/>
<path d="M362.3,262.80 L364.6,262.80" stroke="#333" stroke-width="0.8"/>
<text x="361.3" y="265.1" font-size="6.4" text-anchor="end" fill="#4a4a4a" font-weight="normal" stroke="#4a4a4a" stroke-width="0" >50</text>
<path d="M362.3,285.30 L364.6,285.30" stroke="#333" stroke-width="0.8"/>
<text x="361.3" y="287.6" font-size="6.4" text-anchor="end" fill="#4a4a4a" font-weight="normal" stroke="#4a4a4a" stroke-width="0" >25</text>
<path d="M362.3,307.80 L364.6,307.80" stroke="#333" stroke-width="0.8"/>
<text x="361.3" y="310.1" font-size="6.4" text-anchor="end" fill="#4a4a4a" font-weight="normal" stroke="#4a4a4a" stroke-width="0" >0</text>
<path d="M362.3,330.30 L364.6,330.30" stroke="#333" stroke-width="0.8"/>
<text x="361.3" y="332.6" font-size="6.4" text-anchor="end" fill="#4a4a4a" font-weight="normal" stroke="#4a4a4a" stroke-width="0" >&#8722;25</text>
<path d="M380.95,350.1 L380.95,352.40000000000003" stroke="#333" stroke-width="0.8"/>
<text x="380.95" y="357.5" font-size="6.4" text-anchor="middle" fill="#4a4a4a" font-weight="normal" stroke="#4a4a4a" stroke-width="0" >&#8722;40</text>
<path d="M401.30,350.1 L401.30,352.40000000000003" stroke="#333" stroke-width="0.8"/>
<text x="401.3" y="357.5" font-size="6.4" text-anchor="middle" fill="#4a4a4a" font-weight="normal" stroke="#4a4a4a" stroke-width="0" >0</text>
<path d="M421.65,350.1 L421.65,352.40000000000003" stroke="#333" stroke-width="0.8"/>
<text x="421.65" y="357.5" font-size="6.4" text-anchor="middle" fill="#4a4a4a" font-weight="normal" stroke="#4a4a4a" stroke-width="0" >40</text>
<path d="M442.00,350.1 L442.00,352.40000000000003" stroke="#333" stroke-width="0.8"/>
<text x="442.0" y="357.5" font-size="6.4" text-anchor="middle" fill="#4a4a4a" font-weight="normal" stroke="#4a4a4a" stroke-width="0" >80</text>
<text x="406.7" y="366.7" font-size="7.7" text-anchor="middle" fill="#000" font-weight="normal" stroke="#000" stroke-width="0" >PC1: 43% expl. var</text>
<text x="0" y="0" font-size="7.7" text-anchor="middle" fill="#000" font-weight="normal" stroke="#000" stroke-width="0" transform="translate(347.4,302.30) rotate(-90)">PC2: 6% expl. var</text>
<path d="M526.6,254.5 L526.6,350.1 L610.9,350.1" fill="none" stroke="#222" stroke-width="1.05"/>
<path d="M524.3000000000001,262.80 L526.6,262.80" stroke="#333" stroke-width="0.8"/>
<text x="523.3" y="265.1" font-size="6.4" text-anchor="end" fill="#4a4a4a" font-weight="normal" stroke="#4a4a4a" stroke-width="0" >50</text>
<path d="M524.3000000000001,285.30 L526.6,285.30" stroke="#333" stroke-width="0.8"/>
<text x="523.3" y="287.6" font-size="6.4" text-anchor="end" fill="#4a4a4a" font-weight="normal" stroke="#4a4a4a" stroke-width="0" >25</text>
<path d="M524.3000000000001,307.80 L526.6,307.80" stroke="#333" stroke-width="0.8"/>
<text x="523.3" y="310.1" font-size="6.4" text-anchor="end" fill="#4a4a4a" font-weight="normal" stroke="#4a4a4a" stroke-width="0" >0</text>
<path d="M524.3000000000001,330.30 L526.6,330.30" stroke="#333" stroke-width="0.8"/>
<text x="523.3" y="332.6" font-size="6.4" text-anchor="end" fill="#4a4a4a" font-weight="normal" stroke="#4a4a4a" stroke-width="0" >&#8722;25</text>
<path d="M543.35,350.1 L543.35,352.40000000000003" stroke="#333" stroke-width="0.8"/>
<text x="543.35" y="357.5" font-size="6.4" text-anchor="middle" fill="#4a4a4a" font-weight="normal" stroke="#4a4a4a" stroke-width="0" >&#8722;40</text>
<path d="M563.60,350.1 L563.60,352.40000000000003" stroke="#333" stroke-width="0.8"/>
<text x="563.6" y="357.5" font-size="6.4" text-anchor="middle" fill="#4a4a4a" font-weight="normal" stroke="#4a4a4a" stroke-width="0" >0</text>
<path d="M583.85,350.1 L583.85,352.40000000000003" stroke="#333" stroke-width="0.8"/>
<text x="583.85" y="357.5" font-size="6.4" text-anchor="middle" fill="#4a4a4a" font-weight="normal" stroke="#4a4a4a" stroke-width="0" >40</text>
<path d="M604.10,350.1 L604.10,352.40000000000003" stroke="#333" stroke-width="0.8"/>
<text x="604.1" y="357.5" font-size="6.4" text-anchor="middle" fill="#4a4a4a" font-weight="normal" stroke="#4a4a4a" stroke-width="0" >80</text>
<text x="568.75" y="366.7" font-size="7.7" text-anchor="middle" fill="#000" font-weight="normal" stroke="#000" stroke-width="0" >PC1: 43% expl. var</text>
<text x="0" y="0" font-size="7.7" text-anchor="middle" fill="#000" font-weight="normal" stroke="#000" stroke-width="0" transform="translate(509.5,302.30) rotate(-90)">PC2: 6% expl. var</text>
<path d="M364.6,376.2 L364.6,472.3 L455.6,472.3" fill="none" stroke="#222" stroke-width="1.05"/>
<path d="M362.3,384.50 L364.6,384.50" stroke="#333" stroke-width="0.8"/>
<text x="361.3" y="386.8" font-size="6.4" text-anchor="end" fill="#4a4a4a" font-weight="normal" stroke="#4a4a4a" stroke-width="0" >50</text>
<path d="M362.3,407.20 L364.6,407.20" stroke="#333" stroke-width="0.8"/>
<text x="361.3" y="409.5" font-size="6.4" text-anchor="end" fill="#4a4a4a" font-weight="normal" stroke="#4a4a4a" stroke-width="0" >25</text>
<path d="M362.3,429.90 L364.6,429.90" stroke="#333" stroke-width="0.8"/>
<text x="361.3" y="432.2" font-size="6.4" text-anchor="end" fill="#4a4a4a" font-weight="normal" stroke="#4a4a4a" stroke-width="0" >0</text>
<path d="M362.3,452.60 L364.6,452.60" stroke="#333" stroke-width="0.8"/>
<text x="361.3" y="454.9" font-size="6.4" text-anchor="end" fill="#4a4a4a" font-weight="normal" stroke="#4a4a4a" stroke-width="0" >&#8722;25</text>
<path d="M382.40,472.3 L382.40,474.6" stroke="#333" stroke-width="0.8"/>
<text x="382.4" y="479.8" font-size="6.4" text-anchor="middle" fill="#4a4a4a" font-weight="normal" stroke="#4a4a4a" stroke-width="0" >&#8722;40</text>
<path d="M404.50,472.3 L404.50,474.6" stroke="#333" stroke-width="0.8"/>
<text x="404.5" y="479.8" font-size="6.4" text-anchor="middle" fill="#4a4a4a" font-weight="normal" stroke="#4a4a4a" stroke-width="0" >0</text>
<path d="M426.60,472.3 L426.60,474.6" stroke="#333" stroke-width="0.8"/>
<text x="426.6" y="479.8" font-size="6.4" text-anchor="middle" fill="#4a4a4a" font-weight="normal" stroke="#4a4a4a" stroke-width="0" >40</text>
<path d="M448.70,472.3 L448.70,474.6" stroke="#333" stroke-width="0.8"/>
<text x="448.7" y="479.8" font-size="6.4" text-anchor="middle" fill="#4a4a4a" font-weight="normal" stroke="#4a4a4a" stroke-width="0" >80</text>
<text x="410.1" y="489.0" font-size="7.7" text-anchor="middle" fill="#000" font-weight="normal" stroke="#000" stroke-width="0" >PC1: 43% expl. var</text>
<text x="0" y="0" font-size="7.7" text-anchor="middle" fill="#000" font-weight="normal" stroke="#000" stroke-width="0" transform="translate(347.3,424.25) rotate(-90)">PC2: 6% expl. var</text>
<path d="M519.7,376.2 L519.7,472.3 L610.9,472.3" fill="none" stroke="#222" stroke-width="1.05"/>
<path d="M517.4000000000001,384.50 L519.7,384.50" stroke="#333" stroke-width="0.8"/>
<text x="516.4" y="386.8" font-size="6.4" text-anchor="end" fill="#4a4a4a" font-weight="normal" stroke="#4a4a4a" stroke-width="0" >50</text>
<path d="M517.4000000000001,407.20 L519.7,407.20" stroke="#333" stroke-width="0.8"/>
<text x="516.4" y="409.5" font-size="6.4" text-anchor="end" fill="#4a4a4a" font-weight="normal" stroke="#4a4a4a" stroke-width="0" >25</text>
<path d="M517.4000000000001,429.90 L519.7,429.90" stroke="#333" stroke-width="0.8"/>
<text x="516.4" y="432.2" font-size="6.4" text-anchor="end" fill="#4a4a4a" font-weight="normal" stroke="#4a4a4a" stroke-width="0" >0</text>
<path d="M517.4000000000001,452.60 L519.7,452.60" stroke="#333" stroke-width="0.8"/>
<text x="516.4" y="454.9" font-size="6.4" text-anchor="end" fill="#4a4a4a" font-weight="normal" stroke="#4a4a4a" stroke-width="0" >&#8722;25</text>
<path d="M537.60,472.3 L537.60,474.6" stroke="#333" stroke-width="0.8"/>
<text x="537.6" y="479.8" font-size="6.4" text-anchor="middle" fill="#4a4a4a" font-weight="normal" stroke="#4a4a4a" stroke-width="0" >&#8722;40</text>
<path d="M559.90,472.3 L559.90,474.6" stroke="#333" stroke-width="0.8"/>
<text x="559.9" y="479.8" font-size="6.4" text-anchor="middle" fill="#4a4a4a" font-weight="normal" stroke="#4a4a4a" stroke-width="0" >0</text>
<path d="M582.20,472.3 L582.20,474.6" stroke="#333" stroke-width="0.8"/>
<text x="582.2" y="479.8" font-size="6.4" text-anchor="middle" fill="#4a4a4a" font-weight="normal" stroke="#4a4a4a" stroke-width="0" >40</text>
<path d="M604.50,472.3 L604.50,474.6" stroke="#333" stroke-width="0.8"/>
<text x="604.5" y="479.8" font-size="6.4" text-anchor="middle" fill="#4a4a4a" font-weight="normal" stroke="#4a4a4a" stroke-width="0" >80</text>
<text x="565.3" y="489.0" font-size="7.7" text-anchor="middle" fill="#000" font-weight="normal" stroke="#000" stroke-width="0" >PC1: 43% expl. var</text>
<text x="0" y="0" font-size="7.7" text-anchor="middle" fill="#000" font-weight="normal" stroke="#000" stroke-width="0" transform="translate(502.5,424.25) rotate(-90)">PC2: 6% expl. var</text>
<circle cx="382.41" cy="258.40" r="2.2" fill="#a8292b"/>
<circle cx="392.76" cy="260.30" r="2.2" fill="#a8292b"/>
<circle cx="404.31" cy="264.40" r="2.2" fill="#a8292b"/>
<circle cx="396.68" cy="266.40" r="2.2" fill="#a8292b"/>
<circle cx="382.01" cy="270.60" r="2.2" fill="#a8292b"/>
<circle cx="390.04" cy="273.30" r="2.2" fill="#a8292b"/>
<circle cx="382.01" cy="279.10" r="2.2" fill="#a8292b"/>
<circle cx="387.23" cy="279.70" r="2.2" fill="#a8292b"/>
<circle cx="385.42" cy="283.40" r="2.2" fill="#4682b4"/>
<circle cx="383.51" cy="283.40" r="2.2" fill="#a8292b"/>
<circle cx="385.42" cy="288.00" r="2.2" fill="#a8292b"/>
<circle cx="380.50" cy="289.90" r="2.2" fill="#a8292b"/>
<circle cx="384.22" cy="290.70" r="2.2" fill="#a8292b"/>
<circle cx="379.29" cy="291.90" r="2.2" fill="#a8292b"/>
<circle cx="382.11" cy="293.60" r="2.2" fill="#a8292b"/>
<circle cx="376.38" cy="293.60" r="2.2" fill="#a8292b"/>
<circle cx="375.17" cy="295.20" r="2.2" fill="#a8292b"/>
<circle cx="374.77" cy="297.20" r="2.2" fill="#a8292b"/>
<circle cx="383.31" cy="296.80" r="2.2" fill="#a8292b"/>
<circle cx="382.91" cy="299.70" r="2.2" fill="#a8292b"/>
<circle cx="380.10" cy="300.10" r="2.2" fill="#a8292b"/>
<circle cx="376.38" cy="298.40" r="2.2" fill="#a8292b"/>
<circle cx="398.89" cy="296.60" r="2.2" fill="#a8292b"/>
<circle cx="395.47" cy="304.30" r="2.2" fill="#a8292b"/>
<circle cx="374.37" cy="302.50" r="2.2" fill="#a8292b"/>
<circle cx="372.26" cy="304.10" r="2.2" fill="#a8292b"/>
<circle cx="377.58" cy="303.70" r="2.2" fill="#a8292b"/>
<circle cx="380.10" cy="307.00" r="2.2" fill="#a8292b"/>
<circle cx="367.84" cy="306.80" r="2.2" fill="#a8292b"/>
<circle cx="378.89" cy="306.60" r="2.2" fill="#a8292b"/>
<circle cx="375.17" cy="309.40" r="2.2" fill="#a8292b"/>
<circle cx="369.04" cy="310.30" r="2.2" fill="#a8292b"/>
<circle cx="377.58" cy="310.30" r="2.2" fill="#a8292b"/>
<circle cx="370.25" cy="313.10" r="2.2" fill="#a8292b"/>
<circle cx="380.50" cy="313.10" r="2.2" fill="#a8292b"/>
<circle cx="383.91" cy="313.10" r="2.2" fill="#a8292b"/>
<circle cx="376.18" cy="313.70" r="2.2" fill="#a8292b"/>
<circle cx="371.86" cy="315.60" r="2.2" fill="#a8292b"/>
<circle cx="368.04" cy="316.30" r="2.2" fill="#a8292b"/>
<circle cx="376.58" cy="317.60" r="2.2" fill="#a8292b"/>
<circle cx="380.10" cy="317.90" r="2.2" fill="#a8292b"/>
<circle cx="382.11" cy="318.80" r="2.2" fill="#a8292b"/>
<circle cx="392.26" cy="321.00" r="2.2" fill="#a8292b"/>
<circle cx="371.86" cy="322.00" r="2.2" fill="#a8292b"/>
<circle cx="376.38" cy="322.10" r="2.2" fill="#a8292b"/>
<circle cx="381.70" cy="322.60" r="2.2" fill="#a8292b"/>
<circle cx="371.55" cy="325.00" r="2.2" fill="#a8292b"/>
<circle cx="389.44" cy="329.30" r="2.2" fill="#a8292b"/>
<circle cx="371.86" cy="329.50" r="2.2" fill="#a8292b"/>
<circle cx="372.66" cy="331.60" r="2.2" fill="#a8292b"/>
<circle cx="369.44" cy="332.00" r="2.2" fill="#a8292b"/>
<circle cx="369.24" cy="336.00" r="2.2" fill="#a8292b"/>
<circle cx="373.16" cy="336.20" r="2.2" fill="#a8292b"/>
<circle cx="376.68" cy="336.20" r="2.2" fill="#a8292b"/>
<circle cx="380.90" cy="336.20" r="2.2" fill="#a8292b"/>
<circle cx="372.66" cy="345.60" r="2.2" fill="#a8292b"/>
<circle cx="379.09" cy="344.40" r="2.2" fill="#a8292b"/>
<circle cx="416.88" cy="286.10" r="2.2" fill="#4682b4"/>
<circle cx="422.40" cy="285.80" r="2.2" fill="#4682b4"/>
<circle cx="416.88" cy="289.60" r="2.2" fill="#4682b4"/>
<circle cx="418.58" cy="292.70" r="2.2" fill="#4682b4"/>
<circle cx="419.29" cy="294.70" r="2.2" fill="#4682b4"/>
<circle cx="431.85" cy="291.40" r="2.2" fill="#4682b4"/>
<circle cx="435.97" cy="294.20" r="2.2" fill="#4682b4"/>
<circle cx="418.79" cy="298.60" r="2.2" fill="#4682b4"/>
<circle cx="422.91" cy="299.00" r="2.2" fill="#4682b4"/>
<circle cx="434.66" cy="299.50" r="2.2" fill="#4682b4"/>
<circle cx="444.91" cy="264.20" r="2.2" fill="#4682b4"/>
<circle cx="425.92" cy="271.60" r="2.2" fill="#4682b4"/>
<circle cx="430.04" cy="281.50" r="2.2" fill="#4682b4"/>
<circle cx="437.68" cy="283.80" r="2.2" fill="#4682b4"/>
<circle cx="411.65" cy="304.80" r="2.2" fill="#4682b4"/>
<circle cx="414.57" cy="304.70" r="2.2" fill="#4682b4"/>
<circle cx="419.59" cy="304.80" r="2.2" fill="#4682b4"/>
<circle cx="425.82" cy="305.20" r="2.2" fill="#4682b4"/>
<circle cx="430.44" cy="305.50" r="2.2" fill="#4682b4"/>
<circle cx="435.97" cy="304.90" r="2.2" fill="#4682b4"/>
<circle cx="428.84" cy="308.40" r="2.2" fill="#4682b4"/>
<circle cx="424.11" cy="307.80" r="2.2" fill="#4682b4"/>
<circle cx="439.19" cy="308.70" r="2.2" fill="#4682b4"/>
<circle cx="433.56" cy="309.60" r="2.2" fill="#4682b4"/>
<circle cx="438.28" cy="310.40" r="2.2" fill="#4682b4"/>
<circle cx="421.10" cy="311.70" r="2.2" fill="#4682b4"/>
<circle cx="426.52" cy="311.70" r="2.2" fill="#4682b4"/>
<circle cx="431.95" cy="311.30" r="2.2" fill="#4682b4"/>
<circle cx="441.70" cy="313.80" r="2.2" fill="#4682b4"/>
<circle cx="419.79" cy="313.00" r="2.2" fill="#4682b4"/>
<circle cx="422.20" cy="315.10" r="2.2" fill="#4682b4"/>
<circle cx="427.93" cy="315.60" r="2.2" fill="#4682b4"/>
<circle cx="436.17" cy="315.60" r="2.2" fill="#4682b4"/>
<circle cx="433.56" cy="317.70" r="2.2" fill="#4682b4"/>
<circle cx="424.11" cy="316.40" r="2.2" fill="#4682b4"/>
<circle cx="422.81" cy="318.50" r="2.2" fill="#4682b4"/>
<circle cx="428.33" cy="318.10" r="2.2" fill="#4682b4"/>
<circle cx="430.54" cy="318.50" r="2.2" fill="#4682b4"/>
<circle cx="435.67" cy="319.80" r="2.2" fill="#4682b4"/>
<circle cx="430.54" cy="320.70" r="2.2" fill="#4682b4"/>
<circle cx="419.79" cy="321.80" r="2.2" fill="#4682b4"/>
<circle cx="428.33" cy="322.80" r="2.2" fill="#4682b4"/>
<circle cx="432.65" cy="323.30" r="2.2" fill="#4682b4"/>
<circle cx="422.81" cy="323.70" r="2.2" fill="#4682b4"/>
<circle cx="423.21" cy="325.80" r="2.2" fill="#4682b4"/>
<circle cx="423.61" cy="328.00" r="2.2" fill="#4682b4"/>
<circle cx="419.79" cy="328.00" r="2.2" fill="#4682b4"/>
<circle cx="430.95" cy="327.10" r="2.2" fill="#4682b4"/>
<circle cx="433.16" cy="328.00" r="2.2" fill="#4682b4"/>
<circle cx="425.82" cy="333.10" r="2.2" fill="#4682b4"/>
<circle cx="381.41" cy="298.98" r="2.2" fill="#a8292b"/>
<circle cx="422.85" cy="309.29" r="2.2" fill="#4682b4"/>
<circle cx="424.41" cy="311.76" r="2.2" fill="#4682b4"/>
<circle cx="428.10" cy="312.16" r="2.2" fill="#4682b4"/>
<circle cx="436.39" cy="310.87" r="2.2" fill="#4682b4"/>
<circle cx="373.86" cy="312.26" r="2.2" fill="#a8292b"/>
<circle cx="373.40" cy="316.62" r="2.2" fill="#a8292b"/>
<circle cx="374.32" cy="322.67" r="2.2" fill="#a8292b"/>
<circle cx="371.91" cy="313.15" r="2.2" fill="#a8292b"/>
<circle cx="429.77" cy="311.27" r="2.2" fill="#4682b4"/>
<circle cx="425.67" cy="315.33" r="2.2" fill="#4682b4"/>
<circle cx="420.10" cy="317.02" r="2.2" fill="#4682b4"/>
<circle cx="543.81" cy="298.98" r="2.2" fill="#1b9e77"/>
<circle cx="585.04" cy="309.29" r="2.2" fill="#d95f02"/>
<circle cx="586.60" cy="311.76" r="2.2" fill="#1b9e77"/>
<circle cx="590.27" cy="312.16" r="2.2" fill="#1b9e77"/>
<circle cx="598.51" cy="310.87" r="2.2" fill="#1b9e77"/>
<circle cx="536.29" cy="312.26" r="2.2" fill="#d95f02"/>
<circle cx="535.83" cy="316.62" r="2.2" fill="#1b9e77"/>
<circle cx="536.75" cy="322.67" r="2.2" fill="#d95f02"/>
<circle cx="534.36" cy="313.15" r="2.2" fill="#1b9e77"/>
<circle cx="591.93" cy="311.27" r="2.2" fill="#1b9e77"/>
<circle cx="587.85" cy="315.33" r="2.2" fill="#1b9e77"/>
<circle cx="582.31" cy="317.02" r="2.2" fill="#d95f02"/>
<circle cx="380.60" cy="413.86" r="2.2" fill="#56b4e9"/>
<circle cx="376.13" cy="417.19" r="2.2" fill="#e69f00"/>
<circle cx="381.47" cy="422.13" r="2.2" fill="#56b4e9"/>
<circle cx="375.25" cy="424.55" r="2.2" fill="#e69f00"/>
<circle cx="372.96" cy="426.17" r="2.2" fill="#e69f00"/>
<circle cx="378.75" cy="425.76" r="2.2" fill="#56b4e9"/>
<circle cx="380.17" cy="428.69" r="2.2" fill="#56b4e9"/>
<circle cx="378.75" cy="432.42" r="2.2" fill="#56b4e9"/>
<circle cx="370.78" cy="435.25" r="2.2" fill="#e69f00"/>
<circle cx="377.22" cy="435.85" r="2.2" fill="#56b4e9"/>
<circle cx="429.27" cy="429.90" r="2.2" fill="#e69f00"/>
<circle cx="426.00" cy="433.83" r="2.2" fill="#e69f00"/>
<circle cx="431.89" cy="433.83" r="2.2" fill="#e69f00"/>
<circle cx="433.42" cy="437.77" r="2.2" fill="#e69f00"/>
<circle cx="436.26" cy="440.70" r="2.2" fill="#e69f00"/>
<circle cx="372.59" cy="435.30" r="2.2" fill="#e69f00"/>
<circle cx="435.42" cy="433.40" r="2.2" fill="#56b4e9"/>
<circle cx="424.92" cy="439.20" r="2.2" fill="#e69f00"/>
<circle cx="542.50" cy="405.28" r="2.2" fill="#fcba2e"/>
<circle cx="541.18" cy="412.65" r="2.2" fill="#fcba2e"/>
<circle cx="535.79" cy="413.86" r="2.2" fill="#f2844b"/>
<circle cx="531.27" cy="417.19" r="2.2" fill="#dd5e66"/>
<circle cx="536.67" cy="422.13" r="2.2" fill="#f48b47"/>
<circle cx="528.08" cy="426.17" r="2.2" fill="#fcae33"/>
<circle cx="535.34" cy="428.69" r="2.2" fill="#be3884"/>
<circle cx="525.88" cy="435.25" r="2.2" fill="#f48b47"/>
<circle cx="538.87" cy="441.00" r="2.2" fill="#f6e323"/>
<circle cx="590.07" cy="430.51" r="2.2" fill="#f79540"/>
<circle cx="593.48" cy="433.43" r="2.2" fill="#fcc628"/>
<circle cx="589.08" cy="437.77" r="2.2" fill="#ea7456"/>
<circle cx="584.90" cy="438.58" r="2.2" fill="#8f0da4"/>
<circle cx="591.94" cy="442.91" r="2.2" fill="#ef7e50"/>
<circle cx="584.34" cy="450.28" r="2.2" fill="#f48b47"/>
<circle cx="589.26" cy="434.30" r="2.2" fill="#f79540"/>
<circle cx="529.83" cy="434.40" r="2.2" fill="#fcc628"/>
<circle cx="529.33" cy="438.80" r="2.2" fill="#f48b47"/>
<circle cx="544.80" cy="258.40" r="2.2" fill="#1b9e77"/>
<circle cx="555.10" cy="260.30" r="2.2" fill="#1b9e77"/>
<circle cx="566.60" cy="264.40" r="2.2" fill="#1b9e77"/>
<circle cx="559.00" cy="266.40" r="2.2" fill="#d95f02"/>
<circle cx="544.40" cy="270.60" r="2.2" fill="#d95f02"/>
<circle cx="552.40" cy="273.30" r="2.2" fill="#1b9e77"/>
<circle cx="544.40" cy="279.10" r="2.2" fill="#d95f02"/>
<circle cx="549.60" cy="279.70" r="2.2" fill="#d95f02"/>
<circle cx="547.80" cy="283.40" r="2.2" fill="#1b9e77"/>
<circle cx="545.90" cy="283.40" r="2.2" fill="#d95f02"/>
<circle cx="547.80" cy="288.00" r="2.2" fill="#e7298a"/>
<circle cx="542.90" cy="289.90" r="2.2" fill="#1b9e77"/>
<circle cx="546.60" cy="290.70" r="2.2" fill="#1b9e77"/>
<circle cx="541.70" cy="291.90" r="2.2" fill="#d95f02"/>
<circle cx="544.50" cy="293.60" r="2.2" fill="#d95f02"/>
<circle cx="538.80" cy="293.60" r="2.2" fill="#d95f02"/>
<circle cx="537.60" cy="295.20" r="2.2" fill="#e7298a"/>
<circle cx="537.20" cy="297.20" r="2.2" fill="#d95f02"/>
<circle cx="545.70" cy="296.80" r="2.2" fill="#7570b3"/>
<circle cx="545.30" cy="299.70" r="2.2" fill="#1b9e77"/>
<circle cx="542.50" cy="300.10" r="2.2" fill="#7570b3"/>
<circle cx="538.80" cy="298.40" r="2.2" fill="#d95f02"/>
<circle cx="561.20" cy="296.60" r="2.2" fill="#d95f02"/>
<circle cx="557.80" cy="304.30" r="2.2" fill="#d95f02"/>
<circle cx="536.80" cy="302.50" r="2.2" fill="#1b9e77"/>
<circle cx="534.70" cy="304.10" r="2.2" fill="#1b9e77"/>
<circle cx="540.00" cy="303.70" r="2.2" fill="#1b9e77"/>
<circle cx="542.50" cy="307.00" r="2.2" fill="#1b9e77"/>
<circle cx="530.30" cy="306.80" r="2.2" fill="#d95f02"/>
<circle cx="541.30" cy="306.60" r="2.2" fill="#d95f02"/>
<circle cx="537.60" cy="309.40" r="2.2" fill="#1b9e77"/>
<circle cx="531.50" cy="310.30" r="2.2" fill="#d95f02"/>
<circle cx="540.00" cy="310.30" r="2.2" fill="#1b9e77"/>
<circle cx="532.70" cy="313.10" r="2.2" fill="#1b9e77"/>
<circle cx="542.90" cy="313.10" r="2.2" fill="#1b9e77"/>
<circle cx="546.30" cy="313.10" r="2.2" fill="#1b9e77"/>
<circle cx="538.60" cy="313.70" r="2.2" fill="#d95f02"/>
<circle cx="534.30" cy="315.60" r="2.2" fill="#1b9e77"/>
<circle cx="530.50" cy="316.30" r="2.2" fill="#d95f02"/>
<circle cx="539.00" cy="317.60" r="2.2" fill="#1b9e77"/>
<circle cx="542.50" cy="317.90" r="2.2" fill="#1b9e77"/>
<circle cx="544.50" cy="318.80" r="2.2" fill="#e7298a"/>
<circle cx="554.60" cy="321.00" r="2.2" fill="#1b9e77"/>
<circle cx="534.30" cy="322.00" r="2.2" fill="#d95f02"/>
<circle cx="538.80" cy="322.10" r="2.2" fill="#d95f02"/>
<circle cx="544.10" cy="322.60" r="2.2" fill="#d95f02"/>
<circle cx="534.00" cy="325.00" r="2.2" fill="#d95f02"/>
<circle cx="551.80" cy="329.30" r="2.2" fill="#1b9e77"/>
<circle cx="534.30" cy="329.50" r="2.2" fill="#d95f02"/>
<circle cx="535.10" cy="331.60" r="2.2" fill="#d95f02"/>
<circle cx="531.90" cy="332.00" r="2.2" fill="#1b9e77"/>
<circle cx="531.70" cy="336.00" r="2.2" fill="#d95f02"/>
<circle cx="535.60" cy="336.20" r="2.2" fill="#1b9e77"/>
<circle cx="539.10" cy="336.20" r="2.2" fill="#d95f02"/>
<circle cx="543.30" cy="336.20" r="2.2" fill="#7570b3"/>
<circle cx="535.10" cy="345.60" r="2.2" fill="#d95f02"/>
<circle cx="541.50" cy="344.40" r="2.2" fill="#d95f02"/>
<circle cx="579.10" cy="286.10" r="2.2" fill="#1b9e77"/>
<circle cx="584.60" cy="285.80" r="2.2" fill="#7570b3"/>
<circle cx="579.10" cy="289.60" r="2.2" fill="#7570b3"/>
<circle cx="580.80" cy="292.70" r="2.2" fill="#1b9e77"/>
<circle cx="581.50" cy="294.70" r="2.2" fill="#1b9e77"/>
<circle cx="594.00" cy="291.40" r="2.2" fill="#7570b3"/>
<circle cx="598.10" cy="294.20" r="2.2" fill="#e7298a"/>
<circle cx="581.00" cy="298.60" r="2.2" fill="#e7298a"/>
<circle cx="585.10" cy="299.00" r="2.2" fill="#1b9e77"/>
<circle cx="596.80" cy="299.50" r="2.2" fill="#d95f02"/>
<circle cx="607.00" cy="264.20" r="2.2" fill="#d95f02"/>
<circle cx="588.10" cy="271.60" r="2.2" fill="#d95f02"/>
<circle cx="592.20" cy="281.50" r="2.2" fill="#d95f02"/>
<circle cx="599.80" cy="283.80" r="2.2" fill="#1b9e77"/>
<circle cx="573.90" cy="304.80" r="2.2" fill="#d95f02"/>
<circle cx="576.80" cy="304.70" r="2.2" fill="#d95f02"/>
<circle cx="581.80" cy="304.80" r="2.2" fill="#d95f02"/>
<circle cx="588.00" cy="305.20" r="2.2" fill="#d95f02"/>
<circle cx="592.60" cy="305.50" r="2.2" fill="#1b9e77"/>
<circle cx="598.10" cy="304.90" r="2.2" fill="#1b9e77"/>
<circle cx="591.00" cy="308.40" r="2.2" fill="#e7298a"/>
<circle cx="586.30" cy="307.80" r="2.2" fill="#d95f02"/>
<circle cx="601.30" cy="308.70" r="2.2" fill="#7570b3"/>
<circle cx="595.70" cy="309.60" r="2.2" fill="#d95f02"/>
<circle cx="600.40" cy="310.40" r="2.2" fill="#1b9e77"/>
<circle cx="583.30" cy="311.70" r="2.2" fill="#d95f02"/>
<circle cx="588.70" cy="311.70" r="2.2" fill="#1b9e77"/>
<circle cx="594.10" cy="311.30" r="2.2" fill="#1b9e77"/>
<circle cx="603.80" cy="313.80" r="2.2" fill="#1b9e77"/>
<circle cx="582.00" cy="313.00" r="2.2" fill="#d95f02"/>
<circle cx="584.40" cy="315.10" r="2.2" fill="#1b9e77"/>
<circle cx="590.10" cy="315.60" r="2.2" fill="#d95f02"/>
<circle cx="598.30" cy="315.60" r="2.2" fill="#d95f02"/>
<circle cx="595.70" cy="317.70" r="2.2" fill="#d95f02"/>
<circle cx="586.30" cy="316.40" r="2.2" fill="#1b9e77"/>
<circle cx="585.00" cy="318.50" r="2.2" fill="#d95f02"/>
<circle cx="590.50" cy="318.10" r="2.2" fill="#d95f02"/>
<circle cx="592.70" cy="318.50" r="2.2" fill="#1b9e77"/>
<circle cx="597.80" cy="319.80" r="2.2" fill="#1b9e77"/>
<circle cx="592.70" cy="320.70" r="2.2" fill="#7570b3"/>
<circle cx="582.00" cy="321.80" r="2.2" fill="#d95f02"/>
<circle cx="590.50" cy="322.80" r="2.2" fill="#d95f02"/>
<circle cx="594.80" cy="323.30" r="2.2" fill="#7570b3"/>
<circle cx="585.00" cy="323.70" r="2.2" fill="#1b9e77"/>
<circle cx="585.40" cy="325.80" r="2.2" fill="#1b9e77"/>
<circle cx="585.80" cy="328.00" r="2.2" fill="#d95f02"/>
<circle cx="582.00" cy="328.00" r="2.2" fill="#1b9e77"/>
<circle cx="593.10" cy="327.10" r="2.2" fill="#1b9e77"/>
<circle cx="595.30" cy="328.00" r="2.2" fill="#1b9e77"/>
<circle cx="588.00" cy="333.10" r="2.2" fill="#d95f02"/>
<circle cx="543.30" cy="290.30" r="2.2" fill="#1b9e77"/>
<circle cx="547.00" cy="289.90" r="2.2" fill="#1b9e77"/>
<circle cx="541.70" cy="292.70" r="2.2" fill="#d95f02"/>
<circle cx="544.50" cy="293.10" r="2.2" fill="#d95f02"/>
<circle cx="546.10" cy="296.80" r="2.2" fill="#7570b3"/>
<circle cx="542.90" cy="299.70" r="2.2" fill="#7570b3"/>
<circle cx="545.30" cy="299.70" r="2.2" fill="#1b9e77"/>
<circle cx="536.00" cy="303.30" r="2.2" fill="#1b9e77"/>
<circle cx="539.20" cy="303.70" r="2.2" fill="#1b9e77"/>
<circle cx="542.10" cy="304.60" r="2.2" fill="#1b9e77"/>
<circle cx="541.30" cy="306.60" r="2.2" fill="#d95f02"/>
<circle cx="542.50" cy="307.00" r="2.2" fill="#1b9e77"/>
<circle cx="538.00" cy="309.40" r="2.2" fill="#1b9e77"/>
<circle cx="540.00" cy="310.30" r="2.2" fill="#1b9e77"/>
<circle cx="533.10" cy="312.70" r="2.2" fill="#1b9e77"/>
<circle cx="538.40" cy="313.50" r="2.2" fill="#d95f02"/>
<circle cx="543.30" cy="313.10" r="2.2" fill="#1b9e77"/>
<circle cx="546.10" cy="313.10" r="2.2" fill="#1b9e77"/>
<circle cx="530.70" cy="316.40" r="2.2" fill="#d95f02"/>
<circle cx="533.90" cy="315.50" r="2.2" fill="#1b9e77"/>
<circle cx="539.20" cy="317.60" r="2.2" fill="#1b9e77"/>
<circle cx="542.10" cy="318.00" r="2.2" fill="#1b9e77"/>
<circle cx="384.00" cy="380.40" r="2.2" fill="#e69f00"/>
<circle cx="395.00" cy="382.60" r="2.2" fill="#e69f00"/>
<circle cx="407.80" cy="386.70" r="2.2" fill="#56b4e9"/>
<circle cx="399.20" cy="388.60" r="2.2" fill="#56b4e9"/>
<circle cx="383.30" cy="392.80" r="2.2" fill="#56b4e9"/>
<circle cx="391.90" cy="395.50" r="2.2" fill="#56b4e9"/>
<circle cx="383.30" cy="401.50" r="2.2" fill="#e69f00"/>
<circle cx="389.00" cy="401.90" r="2.2" fill="#e69f00"/>
<circle cx="384.70" cy="405.50" r="2.2" fill="#56b4e9"/>
<circle cx="386.80" cy="405.50" r="2.2" fill="#56b4e9"/>
<circle cx="387.00" cy="410.40" r="2.2" fill="#56b4e9"/>
<circle cx="381.50" cy="412.20" r="2.2" fill="#56b4e9"/>
<circle cx="385.60" cy="412.20" r="2.2" fill="#56b4e9"/>
<circle cx="377.30" cy="415.50" r="2.2" fill="#56b4e9"/>
<circle cx="382.10" cy="415.80" r="2.2" fill="#e69f00"/>
<circle cx="384.60" cy="416.40" r="2.2" fill="#e69f00"/>
<circle cx="376.00" cy="418.50" r="2.2" fill="#e69f00"/>
<circle cx="385.20" cy="418.80" r="2.2" fill="#e69f00"/>
<circle cx="401.70" cy="418.80" r="2.2" fill="#56b4e9"/>
<circle cx="376.40" cy="420.60" r="2.2" fill="#e69f00"/>
<circle cx="382.90" cy="421.00" r="2.2" fill="#56b4e9"/>
<circle cx="384.60" cy="422.20" r="2.2" fill="#56b4e9"/>
<circle cx="398.00" cy="426.50" r="2.2" fill="#56b4e9"/>
<circle cx="372.50" cy="451.80" r="2.2" fill="#56b4e9"/>
<circle cx="391.60" cy="451.30" r="2.2" fill="#56b4e9"/>
<circle cx="373.20" cy="453.50" r="2.2" fill="#56b4e9"/>
<circle cx="369.60" cy="453.90" r="2.2" fill="#e69f00"/>
<circle cx="370.00" cy="458.20" r="2.2" fill="#e69f00"/>
<circle cx="373.90" cy="458.50" r="2.2" fill="#56b4e9"/>
<circle cx="377.50" cy="458.20" r="2.2" fill="#e69f00"/>
<circle cx="382.10" cy="458.50" r="2.2" fill="#e69f00"/>
<circle cx="373.40" cy="467.90" r="2.2" fill="#e69f00"/>
<circle cx="380.30" cy="466.70" r="2.2" fill="#e69f00"/>
<circle cx="451.10" cy="386.50" r="2.2" fill="#56b4e9"/>
<circle cx="430.70" cy="394.00" r="2.2" fill="#56b4e9"/>
<circle cx="435.00" cy="403.80" r="2.2" fill="#56b4e9"/>
<circle cx="443.20" cy="406.00" r="2.2" fill="#56b4e9"/>
<circle cx="426.90" cy="408.00" r="2.2" fill="#56b4e9"/>
<circle cx="420.80" cy="408.20" r="2.2" fill="#e69f00"/>
<circle cx="420.80" cy="411.60" r="2.2" fill="#e69f00"/>
<circle cx="422.80" cy="414.20" r="2.2" fill="#e69f00"/>
<circle cx="437.10" cy="413.80" r="2.2" fill="#e69f00"/>
<circle cx="423.30" cy="417.20" r="2.2" fill="#e69f00"/>
<circle cx="441.50" cy="416.50" r="2.2" fill="#56b4e9"/>
<circle cx="422.90" cy="420.50" r="2.2" fill="#e69f00"/>
<circle cx="427.50" cy="421.20" r="2.2" fill="#e69f00"/>
<circle cx="440.20" cy="421.60" r="2.2" fill="#56b4e9"/>
<circle cx="415.70" cy="426.80" r="2.2" fill="#56b4e9"/>
<circle cx="418.80" cy="426.60" r="2.2" fill="#e69f00"/>
<circle cx="423.90" cy="426.80" r="2.2" fill="#e69f00"/>
<circle cx="430.90" cy="427.50" r="2.2" fill="#56b4e9"/>
<circle cx="435.60" cy="427.90" r="2.2" fill="#e69f00"/>
<circle cx="441.40" cy="427.10" r="2.2" fill="#56b4e9"/>
<circle cx="433.60" cy="431.00" r="2.2" fill="#56b4e9"/>
<circle cx="427.90" cy="431.40" r="2.2" fill="#e69f00"/>
<circle cx="439.30" cy="431.40" r="2.2" fill="#e69f00"/>
<circle cx="444.60" cy="431.40" r="2.2" fill="#e69f00"/>
<circle cx="424.70" cy="434.70" r="2.2" fill="#e69f00"/>
<circle cx="429.60" cy="433.90" r="2.2" fill="#e69f00"/>
<circle cx="433.60" cy="434.30" r="2.2" fill="#e69f00"/>
<circle cx="437.30" cy="433.40" r="2.2" fill="#56b4e9"/>
<circle cx="442.60" cy="433.00" r="2.2" fill="#e69f00"/>
<circle cx="447.50" cy="435.90" r="2.2" fill="#56b4e9"/>
<circle cx="425.90" cy="437.50" r="2.2" fill="#e69f00"/>
<circle cx="430.00" cy="437.50" r="2.2" fill="#56b4e9"/>
<circle cx="443.00" cy="437.90" r="2.2" fill="#e69f00"/>
<circle cx="440.60" cy="439.20" r="2.2" fill="#56b4e9"/>
<circle cx="428.70" cy="440.40" r="2.2" fill="#e69f00"/>
<circle cx="433.60" cy="440.00" r="2.2" fill="#e69f00"/>
<circle cx="426.30" cy="441.20" r="2.2" fill="#56b4e9"/>
<circle cx="441.00" cy="441.60" r="2.2" fill="#56b4e9"/>
<circle cx="435.30" cy="442.40" r="2.2" fill="#e69f00"/>
<circle cx="423.90" cy="444.00" r="2.2" fill="#e69f00"/>
<circle cx="434.40" cy="444.90" r="2.2" fill="#e69f00"/>
<circle cx="437.70" cy="445.30" r="2.2" fill="#e69f00"/>
<circle cx="427.50" cy="446.50" r="2.2" fill="#e69f00"/>
<circle cx="427.50" cy="448.50" r="2.2" fill="#e69f00"/>
<circle cx="423.90" cy="450.20" r="2.2" fill="#56b4e9"/>
<circle cx="427.90" cy="450.20" r="2.2" fill="#56b4e9"/>
<circle cx="436.10" cy="449.20" r="2.2" fill="#56b4e9"/>
<circle cx="438.10" cy="450.20" r="2.2" fill="#56b4e9"/>
<circle cx="430.40" cy="455.50" r="2.2" fill="#56b4e9"/>
<circle cx="374.70" cy="426.30" r="2.2" fill="#e69f00"/>
<circle cx="380.30" cy="426.00" r="2.2" fill="#56b4e9"/>
<circle cx="368.30" cy="429.30" r="2.2" fill="#56b4e9"/>
<circle cx="381.80" cy="429.30" r="2.2" fill="#56b4e9"/>
<circle cx="375.40" cy="431.90" r="2.2" fill="#e69f00"/>
<circle cx="377.50" cy="431.10" r="2.2" fill="#56b4e9"/>
<circle cx="378.20" cy="434.70" r="2.2" fill="#56b4e9"/>
<circle cx="369.80" cy="433.40" r="2.2" fill="#e69f00"/>
<circle cx="374.70" cy="434.40" r="2.2" fill="#56b4e9"/>
<circle cx="381.80" cy="435.40" r="2.2" fill="#56b4e9"/>
<circle cx="385.10" cy="435.40" r="2.2" fill="#56b4e9"/>
<circle cx="368.80" cy="438.20" r="2.2" fill="#e69f00"/>
<circle cx="372.60" cy="437.00" r="2.2" fill="#e69f00"/>
<circle cx="374.20" cy="438.80" r="2.2" fill="#e69f00"/>
<circle cx="377.50" cy="439.80" r="2.2" fill="#e69f00"/>
<circle cx="380.80" cy="439.80" r="2.2" fill="#e69f00"/>
<circle cx="383.30" cy="441.30" r="2.2" fill="#56b4e9"/>
<circle cx="372.10" cy="444.10" r="2.2" fill="#e69f00"/>
<circle cx="375.20" cy="444.90" r="2.2" fill="#56b4e9"/>
<circle cx="378.00" cy="444.40" r="2.2" fill="#e69f00"/>
<circle cx="382.80" cy="444.90" r="2.2" fill="#e69f00"/>
<circle cx="383.60" cy="445.60" r="2.2" fill="#56b4e9"/>
<circle cx="372.60" cy="447.40" r="2.2" fill="#e69f00"/>
<circle cx="394.00" cy="443.30" r="2.2" fill="#e69f00"/>
<circle cx="539.40" cy="380.60" r="2.2" fill="#e16462"/>
<circle cx="550.70" cy="382.60" r="2.2" fill="#ef7e50"/>
<circle cx="563.10" cy="386.70" r="2.2" fill="#fcc628"/>
<circle cx="554.80" cy="388.60" r="2.2" fill="#fcc628"/>
<circle cx="538.80" cy="392.80" r="2.2" fill="#e16462"/>
<circle cx="547.50" cy="395.50" r="2.2" fill="#f48b47"/>
<circle cx="539.00" cy="401.40" r="2.2" fill="#b6308b"/>
<circle cx="544.60" cy="401.80" r="2.2" fill="#f2844b"/>
<circle cx="541.10" cy="405.80" r="2.2" fill="#fcba2e"/>
<circle cx="542.50" cy="410.40" r="2.2" fill="#fcba2e"/>
<circle cx="537.00" cy="412.20" r="2.2" fill="#f48b47"/>
<circle cx="532.80" cy="415.40" r="2.2" fill="#d6566d"/>
<circle cx="538.30" cy="414.50" r="2.2" fill="#ea7456"/>
<circle cx="541.10" cy="419.10" r="2.2" fill="#cc4778"/>
<circle cx="531.00" cy="419.10" r="2.2" fill="#dd5e66"/>
<circle cx="557.10" cy="418.80" r="2.2" fill="#f48b47"/>
<circle cx="537.10" cy="412.40" r="2.2" fill="#f2844b"/>
<circle cx="542.00" cy="410.80" r="2.2" fill="#fcba2e"/>
<circle cx="533.00" cy="415.70" r="2.2" fill="#d6566d"/>
<circle cx="537.50" cy="416.10" r="2.2" fill="#f2844b"/>
<circle cx="540.80" cy="419.00" r="2.2" fill="#cc4778"/>
<circle cx="531.00" cy="419.80" r="2.2" fill="#d6566d"/>
<circle cx="533.40" cy="421.00" r="2.2" fill="#fcce25"/>
<circle cx="538.70" cy="421.40" r="2.2" fill="#f48b47"/>
<circle cx="529.40" cy="426.70" r="2.2" fill="#fcae33"/>
<circle cx="531.40" cy="425.10" r="2.2" fill="#f2844b"/>
<circle cx="535.10" cy="425.90" r="2.2" fill="#f48b47"/>
<circle cx="553.40" cy="426.70" r="2.2" fill="#e46a5d"/>
<circle cx="523.90" cy="429.40" r="2.2" fill="#6a00a8"/>
<circle cx="537.10" cy="429.40" r="2.2" fill="#be3884"/>
<circle cx="531.00" cy="431.60" r="2.2" fill="#cc4778"/>
<circle cx="534.30" cy="431.20" r="2.2" fill="#ef7e50"/>
<circle cx="525.30" cy="433.20" r="2.2" fill="#be3884"/>
<circle cx="527.70" cy="435.30" r="2.2" fill="#f48b47"/>
<circle cx="531.40" cy="434.40" r="2.2" fill="#fcc628"/>
<circle cx="533.00" cy="436.10" r="2.2" fill="#f2844b"/>
<circle cx="537.50" cy="435.70" r="2.2" fill="#9613a0"/>
<circle cx="540.80" cy="435.70" r="2.2" fill="#f48b47"/>
<circle cx="524.10" cy="438.50" r="2.2" fill="#b6308b"/>
<circle cx="528.10" cy="438.10" r="2.2" fill="#f48b47"/>
<circle cx="532.60" cy="440.10" r="2.2" fill="#ea7456"/>
<circle cx="537.10" cy="441.00" r="2.2" fill="#fad724"/>
<circle cx="549.70" cy="443.40" r="2.2" fill="#cc4778"/>
<circle cx="527.70" cy="443.80" r="2.2" fill="#b12a90"/>
<circle cx="531.40" cy="444.60" r="2.2" fill="#ea7456"/>
<circle cx="538.30" cy="445.00" r="2.2" fill="#f6e323"/>
<circle cx="527.70" cy="447.50" r="2.2" fill="#fca636"/>
<circle cx="527.80" cy="443.90" r="2.2" fill="#a01b9a"/>
<circle cx="530.70" cy="445.00" r="2.2" fill="#ea7456"/>
<circle cx="533.50" cy="444.60" r="2.2" fill="#ea7456"/>
<circle cx="537.50" cy="441.40" r="2.2" fill="#f6e323"/>
<circle cx="538.20" cy="444.60" r="2.2" fill="#f6e323"/>
<circle cx="539.20" cy="445.30" r="2.2" fill="#f79540"/>
<circle cx="549.90" cy="443.20" r="2.2" fill="#cc4778"/>
<circle cx="527.80" cy="447.50" r="2.2" fill="#fcae33"/>
<circle cx="527.80" cy="451.80" r="2.2" fill="#f79540"/>
<circle cx="547.10" cy="451.80" r="2.2" fill="#f79540"/>
<circle cx="525.70" cy="453.90" r="2.2" fill="#7c06a6"/>
<circle cx="529.30" cy="454.60" r="2.2" fill="#f6e323"/>
<circle cx="525.30" cy="458.20" r="2.2" fill="#fca636"/>
<circle cx="529.30" cy="458.50" r="2.2" fill="#f48b47"/>
<circle cx="532.80" cy="458.40" r="2.2" fill="#f48b47"/>
<circle cx="537.80" cy="458.50" r="2.2" fill="#f79540"/>
<circle cx="528.90" cy="467.80" r="2.2" fill="#f48b47"/>
<circle cx="535.80" cy="466.70" r="2.2" fill="#f48b47"/>
<circle cx="563.40" cy="386.90" r="2.2" fill="#fcc628"/>
<circle cx="606.60" cy="386.50" r="2.2" fill="#f48b47"/>
<circle cx="586.20" cy="393.80" r="2.2" fill="#fca636"/>
<circle cx="590.80" cy="403.70" r="2.2" fill="#fcba2e"/>
<circle cx="598.70" cy="406.00" r="2.2" fill="#a01b9a"/>
<circle cx="582.40" cy="408.00" r="2.2" fill="#cc4778"/>
<circle cx="576.30" cy="408.30" r="2.2" fill="#fcba2e"/>
<circle cx="576.30" cy="411.60" r="2.2" fill="#fcce25"/>
<circle cx="578.10" cy="414.20" r="2.2" fill="#c7417d"/>
<circle cx="592.60" cy="413.80" r="2.2" fill="#f79540"/>
<circle cx="578.80" cy="417.20" r="2.2" fill="#f2844b"/>
<circle cx="597.20" cy="416.50" r="2.2" fill="#f6e323"/>
<circle cx="582.90" cy="421.30" r="2.2" fill="#8f0da4"/>
<circle cx="578.30" cy="420.80" r="2.2" fill="#f2844b"/>
<circle cx="595.60" cy="421.80" r="2.2" fill="#fca636"/>
<circle cx="571.20" cy="426.70" r="2.2" fill="#e46a5d"/>
<circle cx="574.30" cy="426.40" r="2.2" fill="#e46a5d"/>
<circle cx="578.80" cy="426.70" r="2.2" fill="#e16462"/>
<circle cx="586.00" cy="427.40" r="2.2" fill="#cc4778"/>
<circle cx="591.10" cy="427.70" r="2.2" fill="#f2844b"/>
<circle cx="596.90" cy="426.90" r="2.2" fill="#e46a5d"/>
<circle cx="584.20" cy="430.60" r="2.2" fill="#fcc628"/>
<circle cx="588.60" cy="431.00" r="2.2" fill="#f79540"/>
<circle cx="594.30" cy="431.40" r="2.2" fill="#fcc628"/>
<circle cx="600.00" cy="430.60" r="2.2" fill="#fcce25"/>
<circle cx="599.20" cy="432.60" r="2.2" fill="#e46a5d"/>
<circle cx="582.10" cy="433.00" r="2.2" fill="#fad724"/>
<circle cx="586.60" cy="433.90" r="2.2" fill="#f6e323"/>
<circle cx="591.10" cy="433.40" r="2.2" fill="#f79540"/>
<circle cx="579.70" cy="434.70" r="2.2" fill="#e46a5d"/>
<circle cx="602.90" cy="435.90" r="2.2" fill="#f79540"/>
<circle cx="582.10" cy="437.10" r="2.2" fill="#ea7456"/>
<circle cx="586.60" cy="437.50" r="2.2" fill="#8f0da4"/>
<circle cx="597.60" cy="437.50" r="2.2" fill="#e46a5d"/>
<circle cx="580.50" cy="439.20" r="2.2" fill="#fad724"/>
<circle cx="588.60" cy="440.00" r="2.2" fill="#ea7456"/>
<circle cx="591.10" cy="440.00" r="2.2" fill="#5602a2"/>
<circle cx="595.20" cy="439.60" r="2.2" fill="#e46a5d"/>
<circle cx="583.70" cy="440.80" r="2.2" fill="#e16462"/>
<circle cx="596.80" cy="442.00" r="2.2" fill="#f79540"/>
<circle cx="579.30" cy="444.00" r="2.2" fill="#e16462"/>
<circle cx="589.40" cy="444.90" r="2.2" fill="#b12a90"/>
<circle cx="593.10" cy="445.70" r="2.2" fill="#e46a5d"/>
<circle cx="582.50" cy="446.10" r="2.2" fill="#c7417d"/>
<circle cx="583.30" cy="448.50" r="2.2" fill="#f48b47"/>
<circle cx="579.70" cy="450.20" r="2.2" fill="#e46a5d"/>
<circle cx="591.10" cy="448.90" r="2.2" fill="#f48b47"/>
<circle cx="593.90" cy="450.20" r="2.2" fill="#f48b47"/>
<circle cx="585.80" cy="455.50" r="2.2" fill="#f48b47"/>
<text x="452.7" y="293.7" font-size="7.9" text-anchor="start" fill="#000" font-weight="normal" stroke="#000" stroke-width="0" >Tissue</text>
<circle cx="456.6" cy="303" r="2.2" fill="#4682b4"/>
<text x="465" y="304.8" font-size="6.7" text-anchor="start" fill="#000" font-weight="normal" stroke="#000" stroke-width="0" >normal</text>
<circle cx="456.6" cy="312.4" r="2.2" fill="#a8292b"/>
<text x="465" y="314.2" font-size="6.7" text-anchor="start" fill="#000" font-weight="normal" stroke="#000" stroke-width="0" >Tumor</text>
<text x="622.9" y="283.7" font-size="7.95" text-anchor="start" fill="#000" font-weight="normal" stroke="#000" stroke-width="0" >Tumor_Stage</text>
<circle cx="627.2" cy="293.20" r="2.2" fill="#1b9e77"/>
<text x="635.5" y="295.6" font-size="6.7" text-anchor="start" fill="#000" font-weight="normal" stroke="#000" stroke-width="0" >T1</text>
<circle cx="627.2" cy="302.77" r="2.2" fill="#d95f02"/>
<text x="635.5" y="305.17" font-size="6.7" text-anchor="start" fill="#000" font-weight="normal" stroke="#000" stroke-width="0" >T2</text>
<circle cx="627.2" cy="312.34" r="2.2" fill="#7570b3"/>
<text x="635.5" y="314.74" font-size="6.7" text-anchor="start" fill="#000" font-weight="normal" stroke="#000" stroke-width="0" >T3</text>
<circle cx="627.2" cy="321.91" r="2.2" fill="#e7298a"/>
<text x="635.5" y="324.31" font-size="6.7" text-anchor="start" fill="#000" font-weight="normal" stroke="#000" stroke-width="0" >T4</text>
<text x="454.9" y="415.6" font-size="7.9" text-anchor="start" fill="#000" font-weight="normal" stroke="#000" stroke-width="0" >Sex</text>
<circle cx="459.4" cy="424.9" r="2.2" fill="#e69f00"/>
<text x="468" y="427.2" font-size="6.7" text-anchor="start" fill="#000" font-weight="normal" stroke="#000" stroke-width="0" >Female</text>
<circle cx="459.4" cy="434.6" r="2.2" fill="#56b4e9"/>
<text x="468" y="436.9" font-size="6.7" text-anchor="start" fill="#000" font-weight="normal" stroke="#000" stroke-width="0" >Male</text>
<text x="627.2" y="401.1" font-size="7.9" text-anchor="start" fill="#000" font-weight="normal" stroke="#000" stroke-width="0" >Age_years</text>
<defs><linearGradient id="plasma" x1="0" y1="1" x2="0" y2="0"><stop offset="0" stop-color="#0d0887"/><stop offset="0.1" stop-color="#41049d"/><stop offset="0.2" stop-color="#6a00a8"/><stop offset="0.3" stop-color="#8f0da4"/><stop offset="0.4" stop-color="#b12a90"/><stop offset="0.5" stop-color="#cc4778"/><stop offset="0.6" stop-color="#e16462"/><stop offset="0.7" stop-color="#f2844b"/><stop offset="0.8" stop-color="#fca636"/><stop offset="0.9" stop-color="#fcce25"/><stop offset="1" stop-color="#f0f921"/></linearGradient></defs>
<rect x="627.2" y="405.9" width="9.7" height="47.9" fill="url(#plasma)"/>
<path d="M627.2,410.20 L629.2,410.20 M634.9,410.20 L636.9,410.20" stroke="#fff" stroke-width="0.5"/>
<text x="640.2" y="412.5" font-size="6.4" text-anchor="start" fill="#4a4a4a" font-weight="normal" stroke="#4a4a4a" stroke-width="0" >80</text>
<path d="M627.2,424.23 L629.2,424.23 M634.9,424.23 L636.9,424.23" stroke="#fff" stroke-width="0.5"/>
<text x="640.2" y="426.53" font-size="6.4" text-anchor="start" fill="#4a4a4a" font-weight="normal" stroke="#4a4a4a" stroke-width="0" >60</text>
<path d="M627.2,438.26 L629.2,438.26 M634.9,438.26 L636.9,438.26" stroke="#fff" stroke-width="0.5"/>
<text x="640.2" y="440.56" font-size="6.4" text-anchor="start" fill="#4a4a4a" font-weight="normal" stroke="#4a4a4a" stroke-width="0" >40</text>
<path d="M627.2,452.29 L629.2,452.29 M634.9,452.29 L636.9,452.29" stroke="#fff" stroke-width="0.5"/>
<text x="640.2" y="454.59" font-size="6.4" text-anchor="start" fill="#4a4a4a" font-weight="normal" stroke="#4a4a4a" stroke-width="0" >20</text>
</svg>
</body></html>
